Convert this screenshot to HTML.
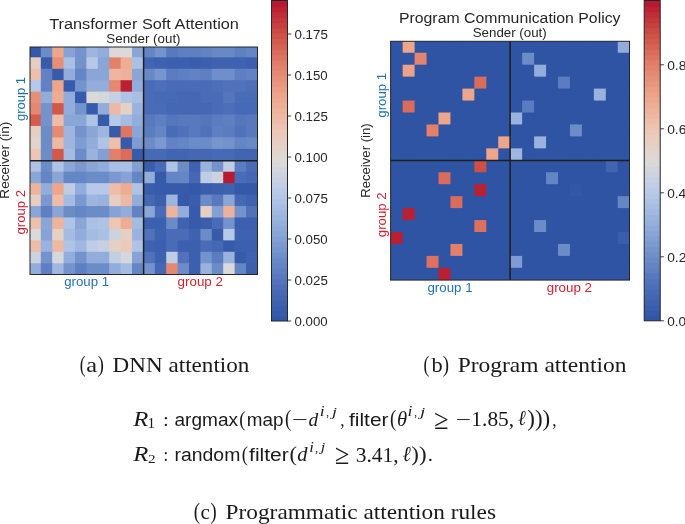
<!DOCTYPE html>
<html><head><meta charset="utf-8"><style>
html,body{margin:0;padding:0;background:#fff;width:685px;height:524px;overflow:hidden}
svg{display:block;will-change:transform}
</style></head><body>
<svg width="685" height="524" viewBox="0 0 685 524">
<clipPath id="clip30"><rect x="30" y="47" width="227.50" height="227.50"/></clipPath><g clip-path="url(#clip30)">
<rect x="29.40" y="45.90" width="12.40" height="12.44" fill="#3459a8"/>
<rect x="40.80" y="45.90" width="12.40" height="12.44" fill="#6c8cc8"/>
<rect x="52.20" y="45.90" width="12.40" height="12.44" fill="#eda68c"/>
<rect x="63.60" y="45.90" width="12.40" height="12.44" fill="#87a3d5"/>
<rect x="75.00" y="45.90" width="12.40" height="12.44" fill="#7493cc"/>
<rect x="86.40" y="45.90" width="12.40" height="12.44" fill="#9db5df"/>
<rect x="97.80" y="45.90" width="12.40" height="12.44" fill="#92addb"/>
<rect x="109.20" y="45.90" width="12.40" height="12.44" fill="#dcdad8"/>
<rect x="120.60" y="45.90" width="12.40" height="12.44" fill="#dcdad8"/>
<rect x="132.00" y="45.90" width="12.40" height="12.44" fill="#8aa6d7"/>
<rect x="143.40" y="45.90" width="12.40" height="12.44" fill="#6586c5"/>
<rect x="154.80" y="45.90" width="12.40" height="12.44" fill="#7493cc"/>
<rect x="166.20" y="45.90" width="12.40" height="12.44" fill="#5879be"/>
<rect x="177.60" y="45.90" width="12.40" height="12.44" fill="#5e7fc2"/>
<rect x="189.00" y="45.90" width="12.40" height="12.44" fill="#5e7fc2"/>
<rect x="200.40" y="45.90" width="12.40" height="12.44" fill="#6282c3"/>
<rect x="211.80" y="45.90" width="12.40" height="12.44" fill="#6989c6"/>
<rect x="223.20" y="45.90" width="12.40" height="12.44" fill="#6989c6"/>
<rect x="234.60" y="45.90" width="12.40" height="12.44" fill="#5e7fc2"/>
<rect x="246.00" y="45.90" width="12.40" height="12.44" fill="#6586c5"/>
<rect x="29.40" y="57.34" width="12.40" height="12.44" fill="#e7cec2"/>
<rect x="40.80" y="57.34" width="12.40" height="12.44" fill="#375baa"/>
<rect x="52.20" y="57.34" width="12.40" height="12.44" fill="#e68f78"/>
<rect x="63.60" y="57.34" width="12.40" height="12.44" fill="#abc1e4"/>
<rect x="75.00" y="57.34" width="12.40" height="12.44" fill="#7493cc"/>
<rect x="86.40" y="57.34" width="12.40" height="12.44" fill="#b6c9e8"/>
<rect x="97.80" y="57.34" width="12.40" height="12.44" fill="#8aa6d7"/>
<rect x="109.20" y="57.34" width="12.40" height="12.44" fill="#e2806a"/>
<rect x="120.60" y="57.34" width="12.40" height="12.44" fill="#edac94"/>
<rect x="132.00" y="57.34" width="12.40" height="12.44" fill="#abc1e4"/>
<rect x="143.40" y="57.34" width="12.40" height="12.44" fill="#4265b2"/>
<rect x="154.80" y="57.34" width="12.40" height="12.44" fill="#3f62b0"/>
<rect x="166.20" y="57.34" width="12.40" height="12.44" fill="#3c60ae"/>
<rect x="177.60" y="57.34" width="12.40" height="12.44" fill="#3c60ae"/>
<rect x="189.00" y="57.34" width="12.40" height="12.44" fill="#3a5eac"/>
<rect x="200.40" y="57.34" width="12.40" height="12.44" fill="#3c60ae"/>
<rect x="211.80" y="57.34" width="12.40" height="12.44" fill="#3f62b0"/>
<rect x="223.20" y="57.34" width="12.40" height="12.44" fill="#3f62b0"/>
<rect x="234.60" y="57.34" width="12.40" height="12.44" fill="#3f62b0"/>
<rect x="246.00" y="57.34" width="12.40" height="12.44" fill="#3c60ae"/>
<rect x="29.40" y="68.78" width="12.40" height="12.44" fill="#eec0ac"/>
<rect x="40.80" y="68.78" width="12.40" height="12.44" fill="#6282c3"/>
<rect x="52.20" y="68.78" width="12.40" height="12.44" fill="#375baa"/>
<rect x="63.60" y="68.78" width="12.40" height="12.44" fill="#92addb"/>
<rect x="75.00" y="68.78" width="12.40" height="12.44" fill="#6586c5"/>
<rect x="86.40" y="68.78" width="12.40" height="12.44" fill="#8aa6d7"/>
<rect x="97.80" y="68.78" width="12.40" height="12.44" fill="#8aa6d7"/>
<rect x="109.20" y="68.78" width="12.40" height="12.44" fill="#eeb6a0"/>
<rect x="120.60" y="68.78" width="12.40" height="12.44" fill="#edb098"/>
<rect x="132.00" y="68.78" width="12.40" height="12.44" fill="#8aa6d7"/>
<rect x="143.40" y="68.78" width="12.40" height="12.44" fill="#6989c6"/>
<rect x="154.80" y="68.78" width="12.40" height="12.44" fill="#7796ce"/>
<rect x="166.20" y="68.78" width="12.40" height="12.44" fill="#5b7cc0"/>
<rect x="177.60" y="68.78" width="12.40" height="12.44" fill="#5e7fc2"/>
<rect x="189.00" y="68.78" width="12.40" height="12.44" fill="#6282c3"/>
<rect x="200.40" y="68.78" width="12.40" height="12.44" fill="#5e7fc2"/>
<rect x="211.80" y="68.78" width="12.40" height="12.44" fill="#708fca"/>
<rect x="223.20" y="68.78" width="12.40" height="12.44" fill="#708fca"/>
<rect x="234.60" y="68.78" width="12.40" height="12.44" fill="#5e7fc2"/>
<rect x="246.00" y="68.78" width="12.40" height="12.44" fill="#6282c3"/>
<rect x="29.40" y="80.22" width="12.40" height="12.44" fill="#b6c9e8"/>
<rect x="40.80" y="80.22" width="12.40" height="12.44" fill="#6282c3"/>
<rect x="52.20" y="80.22" width="12.40" height="12.44" fill="#eda68c"/>
<rect x="63.60" y="80.22" width="12.40" height="12.44" fill="#375baa"/>
<rect x="75.00" y="80.22" width="12.40" height="12.44" fill="#7493cc"/>
<rect x="86.40" y="80.22" width="12.40" height="12.44" fill="#92addb"/>
<rect x="97.80" y="80.22" width="12.40" height="12.44" fill="#92addb"/>
<rect x="109.20" y="80.22" width="12.40" height="12.44" fill="#e48871"/>
<rect x="120.60" y="80.22" width="12.40" height="12.44" fill="#ba2033"/>
<rect x="132.00" y="80.22" width="12.40" height="12.44" fill="#92addb"/>
<rect x="143.40" y="80.22" width="12.40" height="12.44" fill="#4a6cb8"/>
<rect x="154.80" y="80.22" width="12.40" height="12.44" fill="#4d6fba"/>
<rect x="166.20" y="80.22" width="12.40" height="12.44" fill="#4a6cb8"/>
<rect x="177.60" y="80.22" width="12.40" height="12.44" fill="#4a6cb8"/>
<rect x="189.00" y="80.22" width="12.40" height="12.44" fill="#4a6cb8"/>
<rect x="200.40" y="80.22" width="12.40" height="12.44" fill="#4a6cb8"/>
<rect x="211.80" y="80.22" width="12.40" height="12.44" fill="#4d6fba"/>
<rect x="223.20" y="80.22" width="12.40" height="12.44" fill="#5172bb"/>
<rect x="234.60" y="80.22" width="12.40" height="12.44" fill="#5172bb"/>
<rect x="246.00" y="80.22" width="12.40" height="12.44" fill="#4d6fba"/>
<rect x="29.40" y="91.66" width="12.40" height="12.44" fill="#e68f78"/>
<rect x="40.80" y="91.66" width="12.40" height="12.44" fill="#92addb"/>
<rect x="52.20" y="91.66" width="12.40" height="12.44" fill="#edac94"/>
<rect x="63.60" y="91.66" width="12.40" height="12.44" fill="#92addb"/>
<rect x="75.00" y="91.66" width="12.40" height="12.44" fill="#375baa"/>
<rect x="86.40" y="91.66" width="12.40" height="12.44" fill="#dcdad8"/>
<rect x="97.80" y="91.66" width="12.40" height="12.44" fill="#d4d7db"/>
<rect x="109.20" y="91.66" width="12.40" height="12.44" fill="#c5d0e2"/>
<rect x="120.60" y="91.66" width="12.40" height="12.44" fill="#afc3e5"/>
<rect x="132.00" y="91.66" width="12.40" height="12.44" fill="#a8bee3"/>
<rect x="143.40" y="91.66" width="12.40" height="12.44" fill="#4a6cb8"/>
<rect x="154.80" y="91.66" width="12.40" height="12.44" fill="#476ab6"/>
<rect x="166.20" y="91.66" width="12.40" height="12.44" fill="#476ab6"/>
<rect x="177.60" y="91.66" width="12.40" height="12.44" fill="#4567b4"/>
<rect x="189.00" y="91.66" width="12.40" height="12.44" fill="#4567b4"/>
<rect x="200.40" y="91.66" width="12.40" height="12.44" fill="#4a6cb8"/>
<rect x="211.80" y="91.66" width="12.40" height="12.44" fill="#4a6cb8"/>
<rect x="223.20" y="91.66" width="12.40" height="12.44" fill="#5476bd"/>
<rect x="234.60" y="91.66" width="12.40" height="12.44" fill="#4a6cb8"/>
<rect x="246.00" y="91.66" width="12.40" height="12.44" fill="#4a6cb8"/>
<rect x="29.40" y="103.10" width="12.40" height="12.44" fill="#e48871"/>
<rect x="40.80" y="103.10" width="12.40" height="12.44" fill="#7493cc"/>
<rect x="52.20" y="103.10" width="12.40" height="12.44" fill="#d1594c"/>
<rect x="63.60" y="103.10" width="12.40" height="12.44" fill="#92addb"/>
<rect x="75.00" y="103.10" width="12.40" height="12.44" fill="#7493cc"/>
<rect x="86.40" y="103.10" width="12.40" height="12.44" fill="#375baa"/>
<rect x="97.80" y="103.10" width="12.40" height="12.44" fill="#92addb"/>
<rect x="109.20" y="103.10" width="12.40" height="12.44" fill="#eeb9a4"/>
<rect x="120.60" y="103.10" width="12.40" height="12.44" fill="#e5d0c6"/>
<rect x="132.00" y="103.10" width="12.40" height="12.44" fill="#99b3de"/>
<rect x="143.40" y="103.10" width="12.40" height="12.44" fill="#4a6cb8"/>
<rect x="154.80" y="103.10" width="12.40" height="12.44" fill="#4a6cb8"/>
<rect x="166.20" y="103.10" width="12.40" height="12.44" fill="#4567b4"/>
<rect x="177.60" y="103.10" width="12.40" height="12.44" fill="#4567b4"/>
<rect x="189.00" y="103.10" width="12.40" height="12.44" fill="#4567b4"/>
<rect x="200.40" y="103.10" width="12.40" height="12.44" fill="#4567b4"/>
<rect x="211.80" y="103.10" width="12.40" height="12.44" fill="#4a6cb8"/>
<rect x="223.20" y="103.10" width="12.40" height="12.44" fill="#4d6fba"/>
<rect x="234.60" y="103.10" width="12.40" height="12.44" fill="#476ab6"/>
<rect x="246.00" y="103.10" width="12.40" height="12.44" fill="#476ab6"/>
<rect x="29.40" y="114.54" width="12.40" height="12.44" fill="#d35e50"/>
<rect x="40.80" y="114.54" width="12.40" height="12.44" fill="#7493cc"/>
<rect x="52.20" y="114.54" width="12.40" height="12.44" fill="#eebca8"/>
<rect x="63.60" y="114.54" width="12.40" height="12.44" fill="#8aa6d7"/>
<rect x="75.00" y="114.54" width="12.40" height="12.44" fill="#8aa6d7"/>
<rect x="86.40" y="114.54" width="12.40" height="12.44" fill="#afc3e5"/>
<rect x="97.80" y="114.54" width="12.40" height="12.44" fill="#375baa"/>
<rect x="109.20" y="114.54" width="12.40" height="12.44" fill="#b6c9e8"/>
<rect x="120.60" y="114.54" width="12.40" height="12.44" fill="#a4bbe2"/>
<rect x="132.00" y="114.54" width="12.40" height="12.44" fill="#92addb"/>
<rect x="143.40" y="114.54" width="12.40" height="12.44" fill="#5879be"/>
<rect x="154.80" y="114.54" width="12.40" height="12.44" fill="#5e7fc2"/>
<rect x="166.20" y="114.54" width="12.40" height="12.44" fill="#5476bd"/>
<rect x="177.60" y="114.54" width="12.40" height="12.44" fill="#5879be"/>
<rect x="189.00" y="114.54" width="12.40" height="12.44" fill="#5879be"/>
<rect x="200.40" y="114.54" width="12.40" height="12.44" fill="#5476bd"/>
<rect x="211.80" y="114.54" width="12.40" height="12.44" fill="#5b7cc0"/>
<rect x="223.20" y="114.54" width="12.40" height="12.44" fill="#5e7fc2"/>
<rect x="234.60" y="114.54" width="12.40" height="12.44" fill="#5476bd"/>
<rect x="246.00" y="114.54" width="12.40" height="12.44" fill="#5879be"/>
<rect x="29.40" y="125.98" width="12.40" height="12.44" fill="#e7cec2"/>
<rect x="40.80" y="125.98" width="12.40" height="12.44" fill="#6c8cc8"/>
<rect x="52.20" y="125.98" width="12.40" height="12.44" fill="#e58b74"/>
<rect x="63.60" y="125.98" width="12.40" height="12.44" fill="#9db5df"/>
<rect x="75.00" y="125.98" width="12.40" height="12.44" fill="#7493cc"/>
<rect x="86.40" y="125.98" width="12.40" height="12.44" fill="#8aa6d7"/>
<rect x="97.80" y="125.98" width="12.40" height="12.44" fill="#9db5df"/>
<rect x="109.20" y="125.98" width="12.40" height="12.44" fill="#375baa"/>
<rect x="120.60" y="125.98" width="12.40" height="12.44" fill="#de7663"/>
<rect x="132.00" y="125.98" width="12.40" height="12.44" fill="#8aa6d7"/>
<rect x="143.40" y="125.98" width="12.40" height="12.44" fill="#5b7cc0"/>
<rect x="154.80" y="125.98" width="12.40" height="12.44" fill="#6586c5"/>
<rect x="166.20" y="125.98" width="12.40" height="12.44" fill="#4a6cb8"/>
<rect x="177.60" y="125.98" width="12.40" height="12.44" fill="#5172bb"/>
<rect x="189.00" y="125.98" width="12.40" height="12.44" fill="#5879be"/>
<rect x="200.40" y="125.98" width="12.40" height="12.44" fill="#5172bb"/>
<rect x="211.80" y="125.98" width="12.40" height="12.44" fill="#5e7fc2"/>
<rect x="223.20" y="125.98" width="12.40" height="12.44" fill="#5b7cc0"/>
<rect x="234.60" y="125.98" width="12.40" height="12.44" fill="#5172bb"/>
<rect x="246.00" y="125.98" width="12.40" height="12.44" fill="#5879be"/>
<rect x="29.40" y="137.42" width="12.40" height="12.44" fill="#e1d4cd"/>
<rect x="40.80" y="137.42" width="12.40" height="12.44" fill="#6c8cc8"/>
<rect x="52.20" y="137.42" width="12.40" height="12.44" fill="#eeb9a4"/>
<rect x="63.60" y="137.42" width="12.40" height="12.44" fill="#9db5df"/>
<rect x="75.00" y="137.42" width="12.40" height="12.44" fill="#7f9cd2"/>
<rect x="86.40" y="137.42" width="12.40" height="12.44" fill="#92addb"/>
<rect x="97.80" y="137.42" width="12.40" height="12.44" fill="#afc3e5"/>
<rect x="109.20" y="137.42" width="12.40" height="12.44" fill="#eec0ac"/>
<rect x="120.60" y="137.42" width="12.40" height="12.44" fill="#375baa"/>
<rect x="132.00" y="137.42" width="12.40" height="12.44" fill="#7f9cd2"/>
<rect x="143.40" y="137.42" width="12.40" height="12.44" fill="#6c8cc8"/>
<rect x="154.80" y="137.42" width="12.40" height="12.44" fill="#7b99d0"/>
<rect x="166.20" y="137.42" width="12.40" height="12.44" fill="#6282c3"/>
<rect x="177.60" y="137.42" width="12.40" height="12.44" fill="#6586c5"/>
<rect x="189.00" y="137.42" width="12.40" height="12.44" fill="#6c8cc8"/>
<rect x="200.40" y="137.42" width="12.40" height="12.44" fill="#6c8cc8"/>
<rect x="211.80" y="137.42" width="12.40" height="12.44" fill="#7796ce"/>
<rect x="223.20" y="137.42" width="12.40" height="12.44" fill="#7493cc"/>
<rect x="234.60" y="137.42" width="12.40" height="12.44" fill="#6586c5"/>
<rect x="246.00" y="137.42" width="12.40" height="12.44" fill="#6989c6"/>
<rect x="29.40" y="148.86" width="12.40" height="12.44" fill="#eec6b4"/>
<rect x="40.80" y="148.86" width="12.40" height="12.44" fill="#6c8cc8"/>
<rect x="52.20" y="148.86" width="12.40" height="12.44" fill="#d1594c"/>
<rect x="63.60" y="148.86" width="12.40" height="12.44" fill="#a4bbe2"/>
<rect x="75.00" y="148.86" width="12.40" height="12.44" fill="#6c8cc8"/>
<rect x="86.40" y="148.86" width="12.40" height="12.44" fill="#99b3de"/>
<rect x="97.80" y="148.86" width="12.40" height="12.44" fill="#83a0d3"/>
<rect x="109.20" y="148.86" width="12.40" height="12.44" fill="#e2806a"/>
<rect x="120.60" y="148.86" width="12.40" height="12.44" fill="#da6c5b"/>
<rect x="132.00" y="148.86" width="12.40" height="12.44" fill="#375baa"/>
<rect x="143.40" y="148.86" width="12.40" height="12.44" fill="#476ab6"/>
<rect x="154.80" y="148.86" width="12.40" height="12.44" fill="#476ab6"/>
<rect x="166.20" y="148.86" width="12.40" height="12.44" fill="#4265b2"/>
<rect x="177.60" y="148.86" width="12.40" height="12.44" fill="#4265b2"/>
<rect x="189.00" y="148.86" width="12.40" height="12.44" fill="#4567b4"/>
<rect x="200.40" y="148.86" width="12.40" height="12.44" fill="#4567b4"/>
<rect x="211.80" y="148.86" width="12.40" height="12.44" fill="#476ab6"/>
<rect x="223.20" y="148.86" width="12.40" height="12.44" fill="#476ab6"/>
<rect x="234.60" y="148.86" width="12.40" height="12.44" fill="#4265b2"/>
<rect x="246.00" y="148.86" width="12.40" height="12.44" fill="#4265b2"/>
<rect x="29.40" y="160.30" width="12.40" height="12.44" fill="#afc3e5"/>
<rect x="40.80" y="160.30" width="12.40" height="12.44" fill="#6c8cc8"/>
<rect x="52.20" y="160.30" width="12.40" height="12.44" fill="#afc3e5"/>
<rect x="63.60" y="160.30" width="12.40" height="12.44" fill="#8aa6d7"/>
<rect x="75.00" y="160.30" width="12.40" height="12.44" fill="#7b99d0"/>
<rect x="86.40" y="160.30" width="12.40" height="12.44" fill="#8aa6d7"/>
<rect x="97.80" y="160.30" width="12.40" height="12.44" fill="#92addb"/>
<rect x="109.20" y="160.30" width="12.40" height="12.44" fill="#a8bee3"/>
<rect x="120.60" y="160.30" width="12.40" height="12.44" fill="#abc1e4"/>
<rect x="132.00" y="160.30" width="12.40" height="12.44" fill="#83a0d3"/>
<rect x="143.40" y="160.30" width="12.40" height="12.44" fill="#3a5eac"/>
<rect x="154.80" y="160.30" width="12.40" height="12.44" fill="#4a6cb8"/>
<rect x="166.20" y="160.30" width="12.40" height="12.44" fill="#afc3e5"/>
<rect x="177.60" y="160.30" width="12.40" height="12.44" fill="#6c8cc8"/>
<rect x="189.00" y="160.30" width="12.40" height="12.44" fill="#3f62b0"/>
<rect x="200.40" y="160.30" width="12.40" height="12.44" fill="#99b3de"/>
<rect x="211.80" y="160.30" width="12.40" height="12.44" fill="#7493cc"/>
<rect x="223.20" y="160.30" width="12.40" height="12.44" fill="#becce5"/>
<rect x="234.60" y="160.30" width="12.40" height="12.44" fill="#5b7cc0"/>
<rect x="246.00" y="160.30" width="12.40" height="12.44" fill="#4a6cb8"/>
<rect x="29.40" y="171.74" width="12.40" height="12.44" fill="#8aa6d7"/>
<rect x="40.80" y="171.74" width="12.40" height="12.44" fill="#6586c5"/>
<rect x="52.20" y="171.74" width="12.40" height="12.44" fill="#8aa6d7"/>
<rect x="63.60" y="171.74" width="12.40" height="12.44" fill="#6586c5"/>
<rect x="75.00" y="171.74" width="12.40" height="12.44" fill="#6586c5"/>
<rect x="86.40" y="171.74" width="12.40" height="12.44" fill="#6c8cc8"/>
<rect x="97.80" y="171.74" width="12.40" height="12.44" fill="#6c8cc8"/>
<rect x="109.20" y="171.74" width="12.40" height="12.44" fill="#7b99d0"/>
<rect x="120.60" y="171.74" width="12.40" height="12.44" fill="#87a3d5"/>
<rect x="132.00" y="171.74" width="12.40" height="12.44" fill="#6586c5"/>
<rect x="143.40" y="171.74" width="12.40" height="12.44" fill="#92addb"/>
<rect x="154.80" y="171.74" width="12.40" height="12.44" fill="#375baa"/>
<rect x="166.20" y="171.74" width="12.40" height="12.44" fill="#6586c5"/>
<rect x="177.60" y="171.74" width="12.40" height="12.44" fill="#6586c5"/>
<rect x="189.00" y="171.74" width="12.40" height="12.44" fill="#4567b4"/>
<rect x="200.40" y="171.74" width="12.40" height="12.44" fill="#becce5"/>
<rect x="211.80" y="171.74" width="12.40" height="12.44" fill="#cdd3de"/>
<rect x="223.20" y="171.74" width="12.40" height="12.44" fill="#b71a31"/>
<rect x="234.60" y="171.74" width="12.40" height="12.44" fill="#4a6cb8"/>
<rect x="246.00" y="171.74" width="12.40" height="12.44" fill="#4567b4"/>
<rect x="29.40" y="183.18" width="12.40" height="12.44" fill="#edb39c"/>
<rect x="40.80" y="183.18" width="12.40" height="12.44" fill="#92addb"/>
<rect x="52.20" y="183.18" width="12.40" height="12.44" fill="#eda68c"/>
<rect x="63.60" y="183.18" width="12.40" height="12.44" fill="#becce5"/>
<rect x="75.00" y="183.18" width="12.40" height="12.44" fill="#92addb"/>
<rect x="86.40" y="183.18" width="12.40" height="12.44" fill="#b6c9e8"/>
<rect x="97.80" y="183.18" width="12.40" height="12.44" fill="#b6c9e8"/>
<rect x="109.20" y="183.18" width="12.40" height="12.44" fill="#eebca8"/>
<rect x="120.60" y="183.18" width="12.40" height="12.44" fill="#edac94"/>
<rect x="132.00" y="183.18" width="12.40" height="12.44" fill="#afc3e5"/>
<rect x="143.40" y="183.18" width="12.40" height="12.44" fill="#3a5eac"/>
<rect x="154.80" y="183.18" width="12.40" height="12.44" fill="#375baa"/>
<rect x="166.20" y="183.18" width="12.40" height="12.44" fill="#375baa"/>
<rect x="177.60" y="183.18" width="12.40" height="12.44" fill="#375baa"/>
<rect x="189.00" y="183.18" width="12.40" height="12.44" fill="#3459a8"/>
<rect x="200.40" y="183.18" width="12.40" height="12.44" fill="#3a5eac"/>
<rect x="211.80" y="183.18" width="12.40" height="12.44" fill="#3c60ae"/>
<rect x="223.20" y="183.18" width="12.40" height="12.44" fill="#3f62b0"/>
<rect x="234.60" y="183.18" width="12.40" height="12.44" fill="#3459a8"/>
<rect x="246.00" y="183.18" width="12.40" height="12.44" fill="#3459a8"/>
<rect x="29.40" y="194.62" width="12.40" height="12.44" fill="#e7cec2"/>
<rect x="40.80" y="194.62" width="12.40" height="12.44" fill="#7b99d0"/>
<rect x="52.20" y="194.62" width="12.40" height="12.44" fill="#eebca8"/>
<rect x="63.60" y="194.62" width="12.40" height="12.44" fill="#a4bbe2"/>
<rect x="75.00" y="194.62" width="12.40" height="12.44" fill="#7b99d0"/>
<rect x="86.40" y="194.62" width="12.40" height="12.44" fill="#9db5df"/>
<rect x="97.80" y="194.62" width="12.40" height="12.44" fill="#99b3de"/>
<rect x="109.20" y="194.62" width="12.40" height="12.44" fill="#e7cec2"/>
<rect x="120.60" y="194.62" width="12.40" height="12.44" fill="#eeb9a4"/>
<rect x="132.00" y="194.62" width="12.40" height="12.44" fill="#92addb"/>
<rect x="143.40" y="194.62" width="12.40" height="12.44" fill="#4567b4"/>
<rect x="154.80" y="194.62" width="12.40" height="12.44" fill="#3c60ae"/>
<rect x="166.20" y="194.62" width="12.40" height="12.44" fill="#9db5df"/>
<rect x="177.60" y="194.62" width="12.40" height="12.44" fill="#3459a8"/>
<rect x="189.00" y="194.62" width="12.40" height="12.44" fill="#3a5eac"/>
<rect x="200.40" y="194.62" width="12.40" height="12.44" fill="#6c8cc8"/>
<rect x="211.80" y="194.62" width="12.40" height="12.44" fill="#5879be"/>
<rect x="223.20" y="194.62" width="12.40" height="12.44" fill="#8aa6d7"/>
<rect x="234.60" y="194.62" width="12.40" height="12.44" fill="#4567b4"/>
<rect x="246.00" y="194.62" width="12.40" height="12.44" fill="#3f62b0"/>
<rect x="29.40" y="206.06" width="12.40" height="12.44" fill="#8aa6d7"/>
<rect x="40.80" y="206.06" width="12.40" height="12.44" fill="#5e7fc2"/>
<rect x="52.20" y="206.06" width="12.40" height="12.44" fill="#8aa6d7"/>
<rect x="63.60" y="206.06" width="12.40" height="12.44" fill="#6c8cc8"/>
<rect x="75.00" y="206.06" width="12.40" height="12.44" fill="#6586c5"/>
<rect x="86.40" y="206.06" width="12.40" height="12.44" fill="#6c8cc8"/>
<rect x="97.80" y="206.06" width="12.40" height="12.44" fill="#6c8cc8"/>
<rect x="109.20" y="206.06" width="12.40" height="12.44" fill="#87a3d5"/>
<rect x="120.60" y="206.06" width="12.40" height="12.44" fill="#92addb"/>
<rect x="132.00" y="206.06" width="12.40" height="12.44" fill="#6282c3"/>
<rect x="143.40" y="206.06" width="12.40" height="12.44" fill="#8aa6d7"/>
<rect x="154.80" y="206.06" width="12.40" height="12.44" fill="#4a6cb8"/>
<rect x="166.20" y="206.06" width="12.40" height="12.44" fill="#edb39c"/>
<rect x="177.60" y="206.06" width="12.40" height="12.44" fill="#92addb"/>
<rect x="189.00" y="206.06" width="12.40" height="12.44" fill="#375baa"/>
<rect x="200.40" y="206.06" width="12.40" height="12.44" fill="#e7cec2"/>
<rect x="211.80" y="206.06" width="12.40" height="12.44" fill="#83a0d3"/>
<rect x="223.20" y="206.06" width="12.40" height="12.44" fill="#edb098"/>
<rect x="234.60" y="206.06" width="12.40" height="12.44" fill="#7493cc"/>
<rect x="246.00" y="206.06" width="12.40" height="12.44" fill="#5172bb"/>
<rect x="29.40" y="217.50" width="12.40" height="12.44" fill="#eec0ac"/>
<rect x="40.80" y="217.50" width="12.40" height="12.44" fill="#8aa6d7"/>
<rect x="52.20" y="217.50" width="12.40" height="12.44" fill="#edb39c"/>
<rect x="63.60" y="217.50" width="12.40" height="12.44" fill="#afc3e5"/>
<rect x="75.00" y="217.50" width="12.40" height="12.44" fill="#8aa6d7"/>
<rect x="86.40" y="217.50" width="12.40" height="12.44" fill="#abc1e4"/>
<rect x="97.80" y="217.50" width="12.40" height="12.44" fill="#afc3e5"/>
<rect x="109.20" y="217.50" width="12.40" height="12.44" fill="#eec6b4"/>
<rect x="120.60" y="217.50" width="12.40" height="12.44" fill="#edac94"/>
<rect x="132.00" y="217.50" width="12.40" height="12.44" fill="#a4bbe2"/>
<rect x="143.40" y="217.50" width="12.40" height="12.44" fill="#3c60ae"/>
<rect x="154.80" y="217.50" width="12.40" height="12.44" fill="#3c60ae"/>
<rect x="166.20" y="217.50" width="12.40" height="12.44" fill="#6c8cc8"/>
<rect x="177.60" y="217.50" width="12.40" height="12.44" fill="#3f62b0"/>
<rect x="189.00" y="217.50" width="12.40" height="12.44" fill="#375baa"/>
<rect x="200.40" y="217.50" width="12.40" height="12.44" fill="#3a5eac"/>
<rect x="211.80" y="217.50" width="12.40" height="12.44" fill="#4a6cb8"/>
<rect x="223.20" y="217.50" width="12.40" height="12.44" fill="#7493cc"/>
<rect x="234.60" y="217.50" width="12.40" height="12.44" fill="#3c60ae"/>
<rect x="246.00" y="217.50" width="12.40" height="12.44" fill="#3c60ae"/>
<rect x="29.40" y="228.94" width="12.40" height="12.44" fill="#dcdad8"/>
<rect x="40.80" y="228.94" width="12.40" height="12.44" fill="#87a3d5"/>
<rect x="52.20" y="228.94" width="12.40" height="12.44" fill="#e5d0c6"/>
<rect x="63.60" y="228.94" width="12.40" height="12.44" fill="#a4bbe2"/>
<rect x="75.00" y="228.94" width="12.40" height="12.44" fill="#92addb"/>
<rect x="86.40" y="228.94" width="12.40" height="12.44" fill="#a4bbe2"/>
<rect x="97.80" y="228.94" width="12.40" height="12.44" fill="#abc1e4"/>
<rect x="109.20" y="228.94" width="12.40" height="12.44" fill="#cdd3de"/>
<rect x="120.60" y="228.94" width="12.40" height="12.44" fill="#e7cec2"/>
<rect x="132.00" y="228.94" width="12.40" height="12.44" fill="#99b3de"/>
<rect x="143.40" y="228.94" width="12.40" height="12.44" fill="#5172bb"/>
<rect x="154.80" y="228.94" width="12.40" height="12.44" fill="#3f62b0"/>
<rect x="166.20" y="228.94" width="12.40" height="12.44" fill="#4a6cb8"/>
<rect x="177.60" y="228.94" width="12.40" height="12.44" fill="#4a6cb8"/>
<rect x="189.00" y="228.94" width="12.40" height="12.44" fill="#3f62b0"/>
<rect x="200.40" y="228.94" width="12.40" height="12.44" fill="#6c8cc8"/>
<rect x="211.80" y="228.94" width="12.40" height="12.44" fill="#375baa"/>
<rect x="223.20" y="228.94" width="12.40" height="12.44" fill="#b6c9e8"/>
<rect x="234.60" y="228.94" width="12.40" height="12.44" fill="#3f62b0"/>
<rect x="246.00" y="228.94" width="12.40" height="12.44" fill="#3f62b0"/>
<rect x="29.40" y="240.38" width="12.40" height="12.44" fill="#eebca8"/>
<rect x="40.80" y="240.38" width="12.40" height="12.44" fill="#99b3de"/>
<rect x="52.20" y="240.38" width="12.40" height="12.44" fill="#eeb9a4"/>
<rect x="63.60" y="240.38" width="12.40" height="12.44" fill="#afc3e5"/>
<rect x="75.00" y="240.38" width="12.40" height="12.44" fill="#a0b8e0"/>
<rect x="86.40" y="240.38" width="12.40" height="12.44" fill="#becce5"/>
<rect x="97.80" y="240.38" width="12.40" height="12.44" fill="#c5d0e2"/>
<rect x="109.20" y="240.38" width="12.40" height="12.44" fill="#e5d0c6"/>
<rect x="120.60" y="240.38" width="12.40" height="12.44" fill="#eacabb"/>
<rect x="132.00" y="240.38" width="12.40" height="12.44" fill="#afc3e5"/>
<rect x="143.40" y="240.38" width="12.40" height="12.44" fill="#3f62b0"/>
<rect x="154.80" y="240.38" width="12.40" height="12.44" fill="#3c60ae"/>
<rect x="166.20" y="240.38" width="12.40" height="12.44" fill="#4a6cb8"/>
<rect x="177.60" y="240.38" width="12.40" height="12.44" fill="#3c60ae"/>
<rect x="189.00" y="240.38" width="12.40" height="12.44" fill="#3c60ae"/>
<rect x="200.40" y="240.38" width="12.40" height="12.44" fill="#4a6cb8"/>
<rect x="211.80" y="240.38" width="12.40" height="12.44" fill="#4567b4"/>
<rect x="223.20" y="240.38" width="12.40" height="12.44" fill="#375baa"/>
<rect x="234.60" y="240.38" width="12.40" height="12.44" fill="#3c60ae"/>
<rect x="246.00" y="240.38" width="12.40" height="12.44" fill="#3c60ae"/>
<rect x="29.40" y="251.82" width="12.40" height="12.44" fill="#cdd3de"/>
<rect x="40.80" y="251.82" width="12.40" height="12.44" fill="#7493cc"/>
<rect x="52.20" y="251.82" width="12.40" height="12.44" fill="#d4d7db"/>
<rect x="63.60" y="251.82" width="12.40" height="12.44" fill="#92addb"/>
<rect x="75.00" y="251.82" width="12.40" height="12.44" fill="#7493cc"/>
<rect x="86.40" y="251.82" width="12.40" height="12.44" fill="#92addb"/>
<rect x="97.80" y="251.82" width="12.40" height="12.44" fill="#92addb"/>
<rect x="109.20" y="251.82" width="12.40" height="12.44" fill="#c1cee3"/>
<rect x="120.60" y="251.82" width="12.40" height="12.44" fill="#d4d7db"/>
<rect x="132.00" y="251.82" width="12.40" height="12.44" fill="#87a3d5"/>
<rect x="143.40" y="251.82" width="12.40" height="12.44" fill="#5172bb"/>
<rect x="154.80" y="251.82" width="12.40" height="12.44" fill="#3f62b0"/>
<rect x="166.20" y="251.82" width="12.40" height="12.44" fill="#becce5"/>
<rect x="177.60" y="251.82" width="12.40" height="12.44" fill="#5172bb"/>
<rect x="189.00" y="251.82" width="12.40" height="12.44" fill="#3c60ae"/>
<rect x="200.40" y="251.82" width="12.40" height="12.44" fill="#7493cc"/>
<rect x="211.80" y="251.82" width="12.40" height="12.44" fill="#5b7cc0"/>
<rect x="223.20" y="251.82" width="12.40" height="12.44" fill="#99b3de"/>
<rect x="234.60" y="251.82" width="12.40" height="12.44" fill="#375baa"/>
<rect x="246.00" y="251.82" width="12.40" height="12.44" fill="#3f62b0"/>
<rect x="29.40" y="263.26" width="12.40" height="12.44" fill="#92addb"/>
<rect x="40.80" y="263.26" width="12.40" height="12.44" fill="#5e7fc2"/>
<rect x="52.20" y="263.26" width="12.40" height="12.44" fill="#a0b8e0"/>
<rect x="63.60" y="263.26" width="12.40" height="12.44" fill="#7493cc"/>
<rect x="75.00" y="263.26" width="12.40" height="12.44" fill="#5e7fc2"/>
<rect x="86.40" y="263.26" width="12.40" height="12.44" fill="#6c8cc8"/>
<rect x="97.80" y="263.26" width="12.40" height="12.44" fill="#6c8cc8"/>
<rect x="109.20" y="263.26" width="12.40" height="12.44" fill="#92addb"/>
<rect x="120.60" y="263.26" width="12.40" height="12.44" fill="#a4bbe2"/>
<rect x="132.00" y="263.26" width="12.40" height="12.44" fill="#6586c5"/>
<rect x="143.40" y="263.26" width="12.40" height="12.44" fill="#7493cc"/>
<rect x="154.80" y="263.26" width="12.40" height="12.44" fill="#4567b4"/>
<rect x="166.20" y="263.26" width="12.40" height="12.44" fill="#e48871"/>
<rect x="177.60" y="263.26" width="12.40" height="12.44" fill="#6c8cc8"/>
<rect x="189.00" y="263.26" width="12.40" height="12.44" fill="#3c60ae"/>
<rect x="200.40" y="263.26" width="12.40" height="12.44" fill="#99b3de"/>
<rect x="211.80" y="263.26" width="12.40" height="12.44" fill="#6c8cc8"/>
<rect x="223.20" y="263.26" width="12.40" height="12.44" fill="#dcdad8"/>
<rect x="234.60" y="263.26" width="12.40" height="12.44" fill="#6586c5"/>
<rect x="246.00" y="263.26" width="12.40" height="12.44" fill="#3c60ae"/>
</g>
<line x1="143.6" y1="47" x2="143.6" y2="274.5" stroke="#1e1e1e" stroke-width="1.5"/>
<line x1="30" y1="160.7" x2="257.5" y2="160.7" stroke="#1e1e1e" stroke-width="1.5"/>
<rect x="30" y="47" width="227.50" height="227.50" fill="none" stroke="#262626" stroke-width="1"/>
<clipPath id="clip390"><rect x="390.6" y="41.3" width="238.90" height="238.80"/></clipPath><g clip-path="url(#clip390)">
<rect x="390.70" y="40.80" width="12.95" height="12.95" fill="#2f54a4"/>
<rect x="402.65" y="40.80" width="12.95" height="12.95" fill="#eda68c"/>
<rect x="414.60" y="40.80" width="12.95" height="12.95" fill="#2f54a4"/>
<rect x="426.55" y="40.80" width="12.95" height="12.95" fill="#2f54a4"/>
<rect x="438.50" y="40.80" width="12.95" height="12.95" fill="#2f54a4"/>
<rect x="450.45" y="40.80" width="12.95" height="12.95" fill="#2f54a4"/>
<rect x="462.40" y="40.80" width="12.95" height="12.95" fill="#2f54a4"/>
<rect x="474.35" y="40.80" width="12.95" height="12.95" fill="#2f54a4"/>
<rect x="486.30" y="40.80" width="12.95" height="12.95" fill="#2f54a4"/>
<rect x="498.25" y="40.80" width="12.95" height="12.95" fill="#2f54a4"/>
<rect x="510.20" y="40.80" width="12.95" height="12.95" fill="#2f54a4"/>
<rect x="522.15" y="40.80" width="12.95" height="12.95" fill="#2f54a4"/>
<rect x="534.10" y="40.80" width="12.95" height="12.95" fill="#2f54a4"/>
<rect x="546.05" y="40.80" width="12.95" height="12.95" fill="#2f54a4"/>
<rect x="558.00" y="40.80" width="12.95" height="12.95" fill="#2f54a4"/>
<rect x="569.95" y="40.80" width="12.95" height="12.95" fill="#2f54a4"/>
<rect x="581.90" y="40.80" width="12.95" height="12.95" fill="#2f54a4"/>
<rect x="593.85" y="40.80" width="12.95" height="12.95" fill="#2f54a4"/>
<rect x="605.80" y="40.80" width="12.95" height="12.95" fill="#2f54a4"/>
<rect x="617.75" y="40.80" width="12.95" height="12.95" fill="#92addb"/>
<rect x="390.70" y="52.75" width="12.95" height="12.95" fill="#2f54a4"/>
<rect x="402.65" y="52.75" width="12.95" height="12.95" fill="#2f54a4"/>
<rect x="414.60" y="52.75" width="12.95" height="12.95" fill="#e3846d"/>
<rect x="426.55" y="52.75" width="12.95" height="12.95" fill="#2f54a4"/>
<rect x="438.50" y="52.75" width="12.95" height="12.95" fill="#2f54a4"/>
<rect x="450.45" y="52.75" width="12.95" height="12.95" fill="#2f54a4"/>
<rect x="462.40" y="52.75" width="12.95" height="12.95" fill="#2f54a4"/>
<rect x="474.35" y="52.75" width="12.95" height="12.95" fill="#2f54a4"/>
<rect x="486.30" y="52.75" width="12.95" height="12.95" fill="#2f54a4"/>
<rect x="498.25" y="52.75" width="12.95" height="12.95" fill="#2f54a4"/>
<rect x="510.20" y="52.75" width="12.95" height="12.95" fill="#2f54a4"/>
<rect x="522.15" y="52.75" width="12.95" height="12.95" fill="#6c8cc8"/>
<rect x="534.10" y="52.75" width="12.95" height="12.95" fill="#2f54a4"/>
<rect x="546.05" y="52.75" width="12.95" height="12.95" fill="#2f54a4"/>
<rect x="558.00" y="52.75" width="12.95" height="12.95" fill="#2f54a4"/>
<rect x="569.95" y="52.75" width="12.95" height="12.95" fill="#2f54a4"/>
<rect x="581.90" y="52.75" width="12.95" height="12.95" fill="#2f54a4"/>
<rect x="593.85" y="52.75" width="12.95" height="12.95" fill="#2f54a4"/>
<rect x="605.80" y="52.75" width="12.95" height="12.95" fill="#2f54a4"/>
<rect x="617.75" y="52.75" width="12.95" height="12.95" fill="#2f54a4"/>
<rect x="390.70" y="64.70" width="12.95" height="12.95" fill="#2f54a4"/>
<rect x="402.65" y="64.70" width="12.95" height="12.95" fill="#eca289"/>
<rect x="414.60" y="64.70" width="12.95" height="12.95" fill="#2f54a4"/>
<rect x="426.55" y="64.70" width="12.95" height="12.95" fill="#2f54a4"/>
<rect x="438.50" y="64.70" width="12.95" height="12.95" fill="#2f54a4"/>
<rect x="450.45" y="64.70" width="12.95" height="12.95" fill="#2f54a4"/>
<rect x="462.40" y="64.70" width="12.95" height="12.95" fill="#2f54a4"/>
<rect x="474.35" y="64.70" width="12.95" height="12.95" fill="#2f54a4"/>
<rect x="486.30" y="64.70" width="12.95" height="12.95" fill="#2f54a4"/>
<rect x="498.25" y="64.70" width="12.95" height="12.95" fill="#2f54a4"/>
<rect x="510.20" y="64.70" width="12.95" height="12.95" fill="#2f54a4"/>
<rect x="522.15" y="64.70" width="12.95" height="12.95" fill="#2f54a4"/>
<rect x="534.10" y="64.70" width="12.95" height="12.95" fill="#92addb"/>
<rect x="546.05" y="64.70" width="12.95" height="12.95" fill="#2f54a4"/>
<rect x="558.00" y="64.70" width="12.95" height="12.95" fill="#2f54a4"/>
<rect x="569.95" y="64.70" width="12.95" height="12.95" fill="#2f54a4"/>
<rect x="581.90" y="64.70" width="12.95" height="12.95" fill="#2f54a4"/>
<rect x="593.85" y="64.70" width="12.95" height="12.95" fill="#2f54a4"/>
<rect x="605.80" y="64.70" width="12.95" height="12.95" fill="#2f54a4"/>
<rect x="617.75" y="64.70" width="12.95" height="12.95" fill="#2f54a4"/>
<rect x="390.70" y="76.65" width="12.95" height="12.95" fill="#2f54a4"/>
<rect x="402.65" y="76.65" width="12.95" height="12.95" fill="#2f54a4"/>
<rect x="414.60" y="76.65" width="12.95" height="12.95" fill="#2f54a4"/>
<rect x="426.55" y="76.65" width="12.95" height="12.95" fill="#2f54a4"/>
<rect x="438.50" y="76.65" width="12.95" height="12.95" fill="#2f54a4"/>
<rect x="450.45" y="76.65" width="12.95" height="12.95" fill="#2f54a4"/>
<rect x="462.40" y="76.65" width="12.95" height="12.95" fill="#2f54a4"/>
<rect x="474.35" y="76.65" width="12.95" height="12.95" fill="#da6c5b"/>
<rect x="486.30" y="76.65" width="12.95" height="12.95" fill="#2f54a4"/>
<rect x="498.25" y="76.65" width="12.95" height="12.95" fill="#2f54a4"/>
<rect x="510.20" y="76.65" width="12.95" height="12.95" fill="#2f54a4"/>
<rect x="522.15" y="76.65" width="12.95" height="12.95" fill="#2f54a4"/>
<rect x="534.10" y="76.65" width="12.95" height="12.95" fill="#2f54a4"/>
<rect x="546.05" y="76.65" width="12.95" height="12.95" fill="#2f54a4"/>
<rect x="558.00" y="76.65" width="12.95" height="12.95" fill="#5b7cc0"/>
<rect x="569.95" y="76.65" width="12.95" height="12.95" fill="#2f54a4"/>
<rect x="581.90" y="76.65" width="12.95" height="12.95" fill="#2f54a4"/>
<rect x="593.85" y="76.65" width="12.95" height="12.95" fill="#2f54a4"/>
<rect x="605.80" y="76.65" width="12.95" height="12.95" fill="#2f54a4"/>
<rect x="617.75" y="76.65" width="12.95" height="12.95" fill="#2f54a4"/>
<rect x="390.70" y="88.60" width="12.95" height="12.95" fill="#2f54a4"/>
<rect x="402.65" y="88.60" width="12.95" height="12.95" fill="#2f54a4"/>
<rect x="414.60" y="88.60" width="12.95" height="12.95" fill="#2f54a4"/>
<rect x="426.55" y="88.60" width="12.95" height="12.95" fill="#2f54a4"/>
<rect x="438.50" y="88.60" width="12.95" height="12.95" fill="#2f54a4"/>
<rect x="450.45" y="88.60" width="12.95" height="12.95" fill="#2f54a4"/>
<rect x="462.40" y="88.60" width="12.95" height="12.95" fill="#eda68c"/>
<rect x="474.35" y="88.60" width="12.95" height="12.95" fill="#2f54a4"/>
<rect x="486.30" y="88.60" width="12.95" height="12.95" fill="#2f54a4"/>
<rect x="498.25" y="88.60" width="12.95" height="12.95" fill="#2f54a4"/>
<rect x="510.20" y="88.60" width="12.95" height="12.95" fill="#2f54a4"/>
<rect x="522.15" y="88.60" width="12.95" height="12.95" fill="#2f54a4"/>
<rect x="534.10" y="88.60" width="12.95" height="12.95" fill="#2f54a4"/>
<rect x="546.05" y="88.60" width="12.95" height="12.95" fill="#2f54a4"/>
<rect x="558.00" y="88.60" width="12.95" height="12.95" fill="#2f54a4"/>
<rect x="569.95" y="88.60" width="12.95" height="12.95" fill="#2f54a4"/>
<rect x="581.90" y="88.60" width="12.95" height="12.95" fill="#2f54a4"/>
<rect x="593.85" y="88.60" width="12.95" height="12.95" fill="#99b3de"/>
<rect x="605.80" y="88.60" width="12.95" height="12.95" fill="#2f54a4"/>
<rect x="617.75" y="88.60" width="12.95" height="12.95" fill="#2f54a4"/>
<rect x="390.70" y="100.55" width="12.95" height="12.95" fill="#2f54a4"/>
<rect x="402.65" y="100.55" width="12.95" height="12.95" fill="#da6c5b"/>
<rect x="414.60" y="100.55" width="12.95" height="12.95" fill="#2f54a4"/>
<rect x="426.55" y="100.55" width="12.95" height="12.95" fill="#2f54a4"/>
<rect x="438.50" y="100.55" width="12.95" height="12.95" fill="#2f54a4"/>
<rect x="450.45" y="100.55" width="12.95" height="12.95" fill="#2f54a4"/>
<rect x="462.40" y="100.55" width="12.95" height="12.95" fill="#2f54a4"/>
<rect x="474.35" y="100.55" width="12.95" height="12.95" fill="#2f54a4"/>
<rect x="486.30" y="100.55" width="12.95" height="12.95" fill="#2f54a4"/>
<rect x="498.25" y="100.55" width="12.95" height="12.95" fill="#2f54a4"/>
<rect x="510.20" y="100.55" width="12.95" height="12.95" fill="#2f54a4"/>
<rect x="522.15" y="100.55" width="12.95" height="12.95" fill="#5b7cc0"/>
<rect x="534.10" y="100.55" width="12.95" height="12.95" fill="#2f54a4"/>
<rect x="546.05" y="100.55" width="12.95" height="12.95" fill="#2f54a4"/>
<rect x="558.00" y="100.55" width="12.95" height="12.95" fill="#2f54a4"/>
<rect x="569.95" y="100.55" width="12.95" height="12.95" fill="#2f54a4"/>
<rect x="581.90" y="100.55" width="12.95" height="12.95" fill="#2f54a4"/>
<rect x="593.85" y="100.55" width="12.95" height="12.95" fill="#2f54a4"/>
<rect x="605.80" y="100.55" width="12.95" height="12.95" fill="#2f54a4"/>
<rect x="617.75" y="100.55" width="12.95" height="12.95" fill="#2f54a4"/>
<rect x="390.70" y="112.50" width="12.95" height="12.95" fill="#2f54a4"/>
<rect x="402.65" y="112.50" width="12.95" height="12.95" fill="#2f54a4"/>
<rect x="414.60" y="112.50" width="12.95" height="12.95" fill="#2f54a4"/>
<rect x="426.55" y="112.50" width="12.95" height="12.95" fill="#2f54a4"/>
<rect x="438.50" y="112.50" width="12.95" height="12.95" fill="#eda68c"/>
<rect x="450.45" y="112.50" width="12.95" height="12.95" fill="#2f54a4"/>
<rect x="462.40" y="112.50" width="12.95" height="12.95" fill="#2f54a4"/>
<rect x="474.35" y="112.50" width="12.95" height="12.95" fill="#2f54a4"/>
<rect x="486.30" y="112.50" width="12.95" height="12.95" fill="#2f54a4"/>
<rect x="498.25" y="112.50" width="12.95" height="12.95" fill="#2f54a4"/>
<rect x="510.20" y="112.50" width="12.95" height="12.95" fill="#99b3de"/>
<rect x="522.15" y="112.50" width="12.95" height="12.95" fill="#2f54a4"/>
<rect x="534.10" y="112.50" width="12.95" height="12.95" fill="#2f54a4"/>
<rect x="546.05" y="112.50" width="12.95" height="12.95" fill="#2f54a4"/>
<rect x="558.00" y="112.50" width="12.95" height="12.95" fill="#2f54a4"/>
<rect x="569.95" y="112.50" width="12.95" height="12.95" fill="#2f54a4"/>
<rect x="581.90" y="112.50" width="12.95" height="12.95" fill="#2f54a4"/>
<rect x="593.85" y="112.50" width="12.95" height="12.95" fill="#2f54a4"/>
<rect x="605.80" y="112.50" width="12.95" height="12.95" fill="#2f54a4"/>
<rect x="617.75" y="112.50" width="12.95" height="12.95" fill="#2f54a4"/>
<rect x="390.70" y="124.45" width="12.95" height="12.95" fill="#2f54a4"/>
<rect x="402.65" y="124.45" width="12.95" height="12.95" fill="#2f54a4"/>
<rect x="414.60" y="124.45" width="12.95" height="12.95" fill="#2f54a4"/>
<rect x="426.55" y="124.45" width="12.95" height="12.95" fill="#e2806a"/>
<rect x="438.50" y="124.45" width="12.95" height="12.95" fill="#2f54a4"/>
<rect x="450.45" y="124.45" width="12.95" height="12.95" fill="#2f54a4"/>
<rect x="462.40" y="124.45" width="12.95" height="12.95" fill="#2f54a4"/>
<rect x="474.35" y="124.45" width="12.95" height="12.95" fill="#2f54a4"/>
<rect x="486.30" y="124.45" width="12.95" height="12.95" fill="#2f54a4"/>
<rect x="498.25" y="124.45" width="12.95" height="12.95" fill="#2f54a4"/>
<rect x="510.20" y="124.45" width="12.95" height="12.95" fill="#2f54a4"/>
<rect x="522.15" y="124.45" width="12.95" height="12.95" fill="#2f54a4"/>
<rect x="534.10" y="124.45" width="12.95" height="12.95" fill="#2f54a4"/>
<rect x="546.05" y="124.45" width="12.95" height="12.95" fill="#2f54a4"/>
<rect x="558.00" y="124.45" width="12.95" height="12.95" fill="#2f54a4"/>
<rect x="569.95" y="124.45" width="12.95" height="12.95" fill="#6c8cc8"/>
<rect x="581.90" y="124.45" width="12.95" height="12.95" fill="#2f54a4"/>
<rect x="593.85" y="124.45" width="12.95" height="12.95" fill="#2f54a4"/>
<rect x="605.80" y="124.45" width="12.95" height="12.95" fill="#2f54a4"/>
<rect x="617.75" y="124.45" width="12.95" height="12.95" fill="#2f54a4"/>
<rect x="390.70" y="136.40" width="12.95" height="12.95" fill="#2f54a4"/>
<rect x="402.65" y="136.40" width="12.95" height="12.95" fill="#2f54a4"/>
<rect x="414.60" y="136.40" width="12.95" height="12.95" fill="#2f54a4"/>
<rect x="426.55" y="136.40" width="12.95" height="12.95" fill="#2f54a4"/>
<rect x="438.50" y="136.40" width="12.95" height="12.95" fill="#2f54a4"/>
<rect x="450.45" y="136.40" width="12.95" height="12.95" fill="#2f54a4"/>
<rect x="462.40" y="136.40" width="12.95" height="12.95" fill="#2f54a4"/>
<rect x="474.35" y="136.40" width="12.95" height="12.95" fill="#2f54a4"/>
<rect x="486.30" y="136.40" width="12.95" height="12.95" fill="#2f54a4"/>
<rect x="498.25" y="136.40" width="12.95" height="12.95" fill="#eda68c"/>
<rect x="510.20" y="136.40" width="12.95" height="12.95" fill="#2f54a4"/>
<rect x="522.15" y="136.40" width="12.95" height="12.95" fill="#2f54a4"/>
<rect x="534.10" y="136.40" width="12.95" height="12.95" fill="#99b3de"/>
<rect x="546.05" y="136.40" width="12.95" height="12.95" fill="#2f54a4"/>
<rect x="558.00" y="136.40" width="12.95" height="12.95" fill="#2f54a4"/>
<rect x="569.95" y="136.40" width="12.95" height="12.95" fill="#2f54a4"/>
<rect x="581.90" y="136.40" width="12.95" height="12.95" fill="#2f54a4"/>
<rect x="593.85" y="136.40" width="12.95" height="12.95" fill="#2f54a4"/>
<rect x="605.80" y="136.40" width="12.95" height="12.95" fill="#2f54a4"/>
<rect x="617.75" y="136.40" width="12.95" height="12.95" fill="#2f54a4"/>
<rect x="390.70" y="148.35" width="12.95" height="12.95" fill="#2f54a4"/>
<rect x="402.65" y="148.35" width="12.95" height="12.95" fill="#2f54a4"/>
<rect x="414.60" y="148.35" width="12.95" height="12.95" fill="#2f54a4"/>
<rect x="426.55" y="148.35" width="12.95" height="12.95" fill="#2f54a4"/>
<rect x="438.50" y="148.35" width="12.95" height="12.95" fill="#2f54a4"/>
<rect x="450.45" y="148.35" width="12.95" height="12.95" fill="#2f54a4"/>
<rect x="462.40" y="148.35" width="12.95" height="12.95" fill="#2f54a4"/>
<rect x="474.35" y="148.35" width="12.95" height="12.95" fill="#2f54a4"/>
<rect x="486.30" y="148.35" width="12.95" height="12.95" fill="#eda68c"/>
<rect x="498.25" y="148.35" width="12.95" height="12.95" fill="#2f54a4"/>
<rect x="510.20" y="148.35" width="12.95" height="12.95" fill="#9db5df"/>
<rect x="522.15" y="148.35" width="12.95" height="12.95" fill="#2f54a4"/>
<rect x="534.10" y="148.35" width="12.95" height="12.95" fill="#2f54a4"/>
<rect x="546.05" y="148.35" width="12.95" height="12.95" fill="#2f54a4"/>
<rect x="558.00" y="148.35" width="12.95" height="12.95" fill="#2f54a4"/>
<rect x="569.95" y="148.35" width="12.95" height="12.95" fill="#2f54a4"/>
<rect x="581.90" y="148.35" width="12.95" height="12.95" fill="#2f54a4"/>
<rect x="593.85" y="148.35" width="12.95" height="12.95" fill="#2f54a4"/>
<rect x="605.80" y="148.35" width="12.95" height="12.95" fill="#2f54a4"/>
<rect x="617.75" y="148.35" width="12.95" height="12.95" fill="#2f54a4"/>
<rect x="390.70" y="160.30" width="12.95" height="12.95" fill="#2f54a4"/>
<rect x="402.65" y="160.30" width="12.95" height="12.95" fill="#2f54a4"/>
<rect x="414.60" y="160.30" width="12.95" height="12.95" fill="#2f54a4"/>
<rect x="426.55" y="160.30" width="12.95" height="12.95" fill="#2f54a4"/>
<rect x="438.50" y="160.30" width="12.95" height="12.95" fill="#2f54a4"/>
<rect x="450.45" y="160.30" width="12.95" height="12.95" fill="#2f54a4"/>
<rect x="462.40" y="160.30" width="12.95" height="12.95" fill="#2f54a4"/>
<rect x="474.35" y="160.30" width="12.95" height="12.95" fill="#cd4f45"/>
<rect x="486.30" y="160.30" width="12.95" height="12.95" fill="#2f54a4"/>
<rect x="498.25" y="160.30" width="12.95" height="12.95" fill="#2f54a4"/>
<rect x="510.20" y="160.30" width="12.95" height="12.95" fill="#2f54a4"/>
<rect x="522.15" y="160.30" width="12.95" height="12.95" fill="#2f54a4"/>
<rect x="534.10" y="160.30" width="12.95" height="12.95" fill="#2f54a4"/>
<rect x="546.05" y="160.30" width="12.95" height="12.95" fill="#2f54a4"/>
<rect x="558.00" y="160.30" width="12.95" height="12.95" fill="#2f54a4"/>
<rect x="569.95" y="160.30" width="12.95" height="12.95" fill="#2f54a4"/>
<rect x="581.90" y="160.30" width="12.95" height="12.95" fill="#2f54a4"/>
<rect x="593.85" y="160.30" width="12.95" height="12.95" fill="#2f54a4"/>
<rect x="605.80" y="160.30" width="12.95" height="12.95" fill="#4265b2"/>
<rect x="617.75" y="160.30" width="12.95" height="12.95" fill="#2f54a4"/>
<rect x="390.70" y="172.25" width="12.95" height="12.95" fill="#2f54a4"/>
<rect x="402.65" y="172.25" width="12.95" height="12.95" fill="#2f54a4"/>
<rect x="414.60" y="172.25" width="12.95" height="12.95" fill="#2f54a4"/>
<rect x="426.55" y="172.25" width="12.95" height="12.95" fill="#2f54a4"/>
<rect x="438.50" y="172.25" width="12.95" height="12.95" fill="#da6c5b"/>
<rect x="450.45" y="172.25" width="12.95" height="12.95" fill="#2f54a4"/>
<rect x="462.40" y="172.25" width="12.95" height="12.95" fill="#2f54a4"/>
<rect x="474.35" y="172.25" width="12.95" height="12.95" fill="#2f54a4"/>
<rect x="486.30" y="172.25" width="12.95" height="12.95" fill="#2f54a4"/>
<rect x="498.25" y="172.25" width="12.95" height="12.95" fill="#2f54a4"/>
<rect x="510.20" y="172.25" width="12.95" height="12.95" fill="#2f54a4"/>
<rect x="522.15" y="172.25" width="12.95" height="12.95" fill="#2f54a4"/>
<rect x="534.10" y="172.25" width="12.95" height="12.95" fill="#2f54a4"/>
<rect x="546.05" y="172.25" width="12.95" height="12.95" fill="#6586c5"/>
<rect x="558.00" y="172.25" width="12.95" height="12.95" fill="#2f54a4"/>
<rect x="569.95" y="172.25" width="12.95" height="12.95" fill="#2f54a4"/>
<rect x="581.90" y="172.25" width="12.95" height="12.95" fill="#2f54a4"/>
<rect x="593.85" y="172.25" width="12.95" height="12.95" fill="#2f54a4"/>
<rect x="605.80" y="172.25" width="12.95" height="12.95" fill="#2f54a4"/>
<rect x="617.75" y="172.25" width="12.95" height="12.95" fill="#2f54a4"/>
<rect x="390.70" y="184.20" width="12.95" height="12.95" fill="#2f54a4"/>
<rect x="402.65" y="184.20" width="12.95" height="12.95" fill="#2f54a4"/>
<rect x="414.60" y="184.20" width="12.95" height="12.95" fill="#2f54a4"/>
<rect x="426.55" y="184.20" width="12.95" height="12.95" fill="#2f54a4"/>
<rect x="438.50" y="184.20" width="12.95" height="12.95" fill="#2f54a4"/>
<rect x="450.45" y="184.20" width="12.95" height="12.95" fill="#2f54a4"/>
<rect x="462.40" y="184.20" width="12.95" height="12.95" fill="#2f54a4"/>
<rect x="474.35" y="184.20" width="12.95" height="12.95" fill="#ba2033"/>
<rect x="486.30" y="184.20" width="12.95" height="12.95" fill="#2f54a4"/>
<rect x="498.25" y="184.20" width="12.95" height="12.95" fill="#2f54a4"/>
<rect x="510.20" y="184.20" width="12.95" height="12.95" fill="#2f54a4"/>
<rect x="522.15" y="184.20" width="12.95" height="12.95" fill="#2f54a4"/>
<rect x="534.10" y="184.20" width="12.95" height="12.95" fill="#2f54a4"/>
<rect x="546.05" y="184.20" width="12.95" height="12.95" fill="#2f54a4"/>
<rect x="558.00" y="184.20" width="12.95" height="12.95" fill="#2f54a4"/>
<rect x="569.95" y="184.20" width="12.95" height="12.95" fill="#3257a6"/>
<rect x="581.90" y="184.20" width="12.95" height="12.95" fill="#2f54a4"/>
<rect x="593.85" y="184.20" width="12.95" height="12.95" fill="#2f54a4"/>
<rect x="605.80" y="184.20" width="12.95" height="12.95" fill="#2f54a4"/>
<rect x="617.75" y="184.20" width="12.95" height="12.95" fill="#2f54a4"/>
<rect x="390.70" y="196.15" width="12.95" height="12.95" fill="#2f54a4"/>
<rect x="402.65" y="196.15" width="12.95" height="12.95" fill="#2f54a4"/>
<rect x="414.60" y="196.15" width="12.95" height="12.95" fill="#2f54a4"/>
<rect x="426.55" y="196.15" width="12.95" height="12.95" fill="#2f54a4"/>
<rect x="438.50" y="196.15" width="12.95" height="12.95" fill="#2f54a4"/>
<rect x="450.45" y="196.15" width="12.95" height="12.95" fill="#da6c5b"/>
<rect x="462.40" y="196.15" width="12.95" height="12.95" fill="#2f54a4"/>
<rect x="474.35" y="196.15" width="12.95" height="12.95" fill="#2f54a4"/>
<rect x="486.30" y="196.15" width="12.95" height="12.95" fill="#2f54a4"/>
<rect x="498.25" y="196.15" width="12.95" height="12.95" fill="#2f54a4"/>
<rect x="510.20" y="196.15" width="12.95" height="12.95" fill="#2f54a4"/>
<rect x="522.15" y="196.15" width="12.95" height="12.95" fill="#2f54a4"/>
<rect x="534.10" y="196.15" width="12.95" height="12.95" fill="#2f54a4"/>
<rect x="546.05" y="196.15" width="12.95" height="12.95" fill="#2f54a4"/>
<rect x="558.00" y="196.15" width="12.95" height="12.95" fill="#2f54a4"/>
<rect x="569.95" y="196.15" width="12.95" height="12.95" fill="#2f54a4"/>
<rect x="581.90" y="196.15" width="12.95" height="12.95" fill="#2f54a4"/>
<rect x="593.85" y="196.15" width="12.95" height="12.95" fill="#2f54a4"/>
<rect x="605.80" y="196.15" width="12.95" height="12.95" fill="#2f54a4"/>
<rect x="617.75" y="196.15" width="12.95" height="12.95" fill="#6586c5"/>
<rect x="390.70" y="208.10" width="12.95" height="12.95" fill="#2f54a4"/>
<rect x="402.65" y="208.10" width="12.95" height="12.95" fill="#ba2033"/>
<rect x="414.60" y="208.10" width="12.95" height="12.95" fill="#2f54a4"/>
<rect x="426.55" y="208.10" width="12.95" height="12.95" fill="#2f54a4"/>
<rect x="438.50" y="208.10" width="12.95" height="12.95" fill="#2f54a4"/>
<rect x="450.45" y="208.10" width="12.95" height="12.95" fill="#2f54a4"/>
<rect x="462.40" y="208.10" width="12.95" height="12.95" fill="#2f54a4"/>
<rect x="474.35" y="208.10" width="12.95" height="12.95" fill="#2f54a4"/>
<rect x="486.30" y="208.10" width="12.95" height="12.95" fill="#2f54a4"/>
<rect x="498.25" y="208.10" width="12.95" height="12.95" fill="#2f54a4"/>
<rect x="510.20" y="208.10" width="12.95" height="12.95" fill="#2f54a4"/>
<rect x="522.15" y="208.10" width="12.95" height="12.95" fill="#2f54a4"/>
<rect x="534.10" y="208.10" width="12.95" height="12.95" fill="#2f54a4"/>
<rect x="546.05" y="208.10" width="12.95" height="12.95" fill="#2f54a4"/>
<rect x="558.00" y="208.10" width="12.95" height="12.95" fill="#2f54a4"/>
<rect x="569.95" y="208.10" width="12.95" height="12.95" fill="#2f54a4"/>
<rect x="581.90" y="208.10" width="12.95" height="12.95" fill="#2f54a4"/>
<rect x="593.85" y="208.10" width="12.95" height="12.95" fill="#2f54a4"/>
<rect x="605.80" y="208.10" width="12.95" height="12.95" fill="#2f54a4"/>
<rect x="617.75" y="208.10" width="12.95" height="12.95" fill="#2f54a4"/>
<rect x="390.70" y="220.05" width="12.95" height="12.95" fill="#2f54a4"/>
<rect x="402.65" y="220.05" width="12.95" height="12.95" fill="#2f54a4"/>
<rect x="414.60" y="220.05" width="12.95" height="12.95" fill="#2f54a4"/>
<rect x="426.55" y="220.05" width="12.95" height="12.95" fill="#2f54a4"/>
<rect x="438.50" y="220.05" width="12.95" height="12.95" fill="#2f54a4"/>
<rect x="450.45" y="220.05" width="12.95" height="12.95" fill="#2f54a4"/>
<rect x="462.40" y="220.05" width="12.95" height="12.95" fill="#2f54a4"/>
<rect x="474.35" y="220.05" width="12.95" height="12.95" fill="#dc715f"/>
<rect x="486.30" y="220.05" width="12.95" height="12.95" fill="#2f54a4"/>
<rect x="498.25" y="220.05" width="12.95" height="12.95" fill="#2f54a4"/>
<rect x="510.20" y="220.05" width="12.95" height="12.95" fill="#2f54a4"/>
<rect x="522.15" y="220.05" width="12.95" height="12.95" fill="#2f54a4"/>
<rect x="534.10" y="220.05" width="12.95" height="12.95" fill="#6c8cc8"/>
<rect x="546.05" y="220.05" width="12.95" height="12.95" fill="#2f54a4"/>
<rect x="558.00" y="220.05" width="12.95" height="12.95" fill="#2f54a4"/>
<rect x="569.95" y="220.05" width="12.95" height="12.95" fill="#2f54a4"/>
<rect x="581.90" y="220.05" width="12.95" height="12.95" fill="#2f54a4"/>
<rect x="593.85" y="220.05" width="12.95" height="12.95" fill="#2f54a4"/>
<rect x="605.80" y="220.05" width="12.95" height="12.95" fill="#2f54a4"/>
<rect x="617.75" y="220.05" width="12.95" height="12.95" fill="#2f54a4"/>
<rect x="390.70" y="232.00" width="12.95" height="12.95" fill="#ba2033"/>
<rect x="402.65" y="232.00" width="12.95" height="12.95" fill="#2f54a4"/>
<rect x="414.60" y="232.00" width="12.95" height="12.95" fill="#2f54a4"/>
<rect x="426.55" y="232.00" width="12.95" height="12.95" fill="#2f54a4"/>
<rect x="438.50" y="232.00" width="12.95" height="12.95" fill="#2f54a4"/>
<rect x="450.45" y="232.00" width="12.95" height="12.95" fill="#2f54a4"/>
<rect x="462.40" y="232.00" width="12.95" height="12.95" fill="#2f54a4"/>
<rect x="474.35" y="232.00" width="12.95" height="12.95" fill="#2f54a4"/>
<rect x="486.30" y="232.00" width="12.95" height="12.95" fill="#2f54a4"/>
<rect x="498.25" y="232.00" width="12.95" height="12.95" fill="#2f54a4"/>
<rect x="510.20" y="232.00" width="12.95" height="12.95" fill="#2f54a4"/>
<rect x="522.15" y="232.00" width="12.95" height="12.95" fill="#2f54a4"/>
<rect x="534.10" y="232.00" width="12.95" height="12.95" fill="#2f54a4"/>
<rect x="546.05" y="232.00" width="12.95" height="12.95" fill="#2f54a4"/>
<rect x="558.00" y="232.00" width="12.95" height="12.95" fill="#2f54a4"/>
<rect x="569.95" y="232.00" width="12.95" height="12.95" fill="#2f54a4"/>
<rect x="581.90" y="232.00" width="12.95" height="12.95" fill="#2f54a4"/>
<rect x="593.85" y="232.00" width="12.95" height="12.95" fill="#2f54a4"/>
<rect x="605.80" y="232.00" width="12.95" height="12.95" fill="#2f54a4"/>
<rect x="617.75" y="232.00" width="12.95" height="12.95" fill="#3a5eac"/>
<rect x="390.70" y="243.95" width="12.95" height="12.95" fill="#2f54a4"/>
<rect x="402.65" y="243.95" width="12.95" height="12.95" fill="#2f54a4"/>
<rect x="414.60" y="243.95" width="12.95" height="12.95" fill="#2f54a4"/>
<rect x="426.55" y="243.95" width="12.95" height="12.95" fill="#2f54a4"/>
<rect x="438.50" y="243.95" width="12.95" height="12.95" fill="#2f54a4"/>
<rect x="450.45" y="243.95" width="12.95" height="12.95" fill="#e2806a"/>
<rect x="462.40" y="243.95" width="12.95" height="12.95" fill="#2f54a4"/>
<rect x="474.35" y="243.95" width="12.95" height="12.95" fill="#2f54a4"/>
<rect x="486.30" y="243.95" width="12.95" height="12.95" fill="#2f54a4"/>
<rect x="498.25" y="243.95" width="12.95" height="12.95" fill="#2f54a4"/>
<rect x="510.20" y="243.95" width="12.95" height="12.95" fill="#2f54a4"/>
<rect x="522.15" y="243.95" width="12.95" height="12.95" fill="#2f54a4"/>
<rect x="534.10" y="243.95" width="12.95" height="12.95" fill="#2f54a4"/>
<rect x="546.05" y="243.95" width="12.95" height="12.95" fill="#2f54a4"/>
<rect x="558.00" y="243.95" width="12.95" height="12.95" fill="#6c8cc8"/>
<rect x="569.95" y="243.95" width="12.95" height="12.95" fill="#2f54a4"/>
<rect x="581.90" y="243.95" width="12.95" height="12.95" fill="#2f54a4"/>
<rect x="593.85" y="243.95" width="12.95" height="12.95" fill="#2f54a4"/>
<rect x="605.80" y="243.95" width="12.95" height="12.95" fill="#2f54a4"/>
<rect x="617.75" y="243.95" width="12.95" height="12.95" fill="#2f54a4"/>
<rect x="390.70" y="255.90" width="12.95" height="12.95" fill="#2f54a4"/>
<rect x="402.65" y="255.90" width="12.95" height="12.95" fill="#2f54a4"/>
<rect x="414.60" y="255.90" width="12.95" height="12.95" fill="#2f54a4"/>
<rect x="426.55" y="255.90" width="12.95" height="12.95" fill="#dc715f"/>
<rect x="438.50" y="255.90" width="12.95" height="12.95" fill="#2f54a4"/>
<rect x="450.45" y="255.90" width="12.95" height="12.95" fill="#2f54a4"/>
<rect x="462.40" y="255.90" width="12.95" height="12.95" fill="#2f54a4"/>
<rect x="474.35" y="255.90" width="12.95" height="12.95" fill="#2f54a4"/>
<rect x="486.30" y="255.90" width="12.95" height="12.95" fill="#2f54a4"/>
<rect x="498.25" y="255.90" width="12.95" height="12.95" fill="#2f54a4"/>
<rect x="510.20" y="255.90" width="12.95" height="12.95" fill="#7f9cd2"/>
<rect x="522.15" y="255.90" width="12.95" height="12.95" fill="#2f54a4"/>
<rect x="534.10" y="255.90" width="12.95" height="12.95" fill="#2f54a4"/>
<rect x="546.05" y="255.90" width="12.95" height="12.95" fill="#2f54a4"/>
<rect x="558.00" y="255.90" width="12.95" height="12.95" fill="#2f54a4"/>
<rect x="569.95" y="255.90" width="12.95" height="12.95" fill="#2f54a4"/>
<rect x="581.90" y="255.90" width="12.95" height="12.95" fill="#2f54a4"/>
<rect x="593.85" y="255.90" width="12.95" height="12.95" fill="#2f54a4"/>
<rect x="605.80" y="255.90" width="12.95" height="12.95" fill="#2f54a4"/>
<rect x="617.75" y="255.90" width="12.95" height="12.95" fill="#2f54a4"/>
<rect x="390.70" y="267.85" width="12.95" height="12.95" fill="#2f54a4"/>
<rect x="402.65" y="267.85" width="12.95" height="12.95" fill="#2f54a4"/>
<rect x="414.60" y="267.85" width="12.95" height="12.95" fill="#2f54a4"/>
<rect x="426.55" y="267.85" width="12.95" height="12.95" fill="#2f54a4"/>
<rect x="438.50" y="267.85" width="12.95" height="12.95" fill="#ba2033"/>
<rect x="450.45" y="267.85" width="12.95" height="12.95" fill="#2f54a4"/>
<rect x="462.40" y="267.85" width="12.95" height="12.95" fill="#2f54a4"/>
<rect x="474.35" y="267.85" width="12.95" height="12.95" fill="#2f54a4"/>
<rect x="486.30" y="267.85" width="12.95" height="12.95" fill="#2f54a4"/>
<rect x="498.25" y="267.85" width="12.95" height="12.95" fill="#2f54a4"/>
<rect x="510.20" y="267.85" width="12.95" height="12.95" fill="#2f54a4"/>
<rect x="522.15" y="267.85" width="12.95" height="12.95" fill="#2f54a4"/>
<rect x="534.10" y="267.85" width="12.95" height="12.95" fill="#2f54a4"/>
<rect x="546.05" y="267.85" width="12.95" height="12.95" fill="#2f54a4"/>
<rect x="558.00" y="267.85" width="12.95" height="12.95" fill="#2f54a4"/>
<rect x="569.95" y="267.85" width="12.95" height="12.95" fill="#2f54a4"/>
<rect x="581.90" y="267.85" width="12.95" height="12.95" fill="#2f54a4"/>
<rect x="593.85" y="267.85" width="12.95" height="12.95" fill="#2f54a4"/>
<rect x="605.80" y="267.85" width="12.95" height="12.95" fill="#2f54a4"/>
<rect x="617.75" y="267.85" width="12.95" height="12.95" fill="#2f54a4"/>
</g>
<line x1="510.1" y1="41.3" x2="510.1" y2="280.1" stroke="#1e1e1e" stroke-width="1.5"/>
<line x1="390.6" y1="160.6" x2="629.5" y2="160.6" stroke="#1e1e1e" stroke-width="1.5"/>
<rect x="390.6" y="41.3" width="238.90" height="238.80" fill="none" stroke="#262626" stroke-width="1"/>
<rect x="271.5" y="315.66" width="16" height="5.34" fill="#3156a6"/>
<rect x="271.5" y="310.32" width="16" height="6.34" fill="#365aa9"/>
<rect x="271.5" y="304.97" width="16" height="6.34" fill="#3a5eac"/>
<rect x="271.5" y="299.63" width="16" height="6.34" fill="#3f62b0"/>
<rect x="271.5" y="294.29" width="16" height="6.34" fill="#4366b3"/>
<rect x="271.5" y="288.95" width="16" height="6.34" fill="#486ab6"/>
<rect x="271.5" y="283.61" width="16" height="6.34" fill="#4d6fb9"/>
<rect x="271.5" y="278.27" width="16" height="6.34" fill="#5274bc"/>
<rect x="271.5" y="272.93" width="16" height="6.34" fill="#5879bf"/>
<rect x="271.5" y="267.58" width="16" height="6.34" fill="#5e7fc1"/>
<rect x="271.5" y="262.24" width="16" height="6.34" fill="#6484c4"/>
<rect x="271.5" y="256.90" width="16" height="6.34" fill="#6989c7"/>
<rect x="271.5" y="251.56" width="16" height="6.34" fill="#6f8fca"/>
<rect x="271.5" y="246.22" width="16" height="6.34" fill="#7694cd"/>
<rect x="271.5" y="240.88" width="16" height="6.34" fill="#7c9ad0"/>
<rect x="271.5" y="235.53" width="16" height="6.34" fill="#829fd3"/>
<rect x="271.5" y="230.19" width="16" height="6.34" fill="#88a5d6"/>
<rect x="271.5" y="224.85" width="16" height="6.34" fill="#8faad9"/>
<rect x="271.5" y="219.51" width="16" height="6.34" fill="#95afdc"/>
<rect x="271.5" y="214.17" width="16" height="6.34" fill="#9bb4de"/>
<rect x="271.5" y="208.83" width="16" height="6.34" fill="#a1b9e0"/>
<rect x="271.5" y="203.48" width="16" height="6.34" fill="#a7bde3"/>
<rect x="271.5" y="198.14" width="16" height="6.34" fill="#adc2e5"/>
<rect x="271.5" y="192.80" width="16" height="6.34" fill="#b3c7e7"/>
<rect x="271.5" y="187.46" width="16" height="6.34" fill="#b9cae7"/>
<rect x="271.5" y="182.12" width="16" height="6.34" fill="#c0cde4"/>
<rect x="271.5" y="176.78" width="16" height="6.34" fill="#c6d0e1"/>
<rect x="271.5" y="171.43" width="16" height="6.34" fill="#ccd3df"/>
<rect x="271.5" y="166.09" width="16" height="6.34" fill="#d2d6dc"/>
<rect x="271.5" y="160.75" width="16" height="6.34" fill="#d9d9d9"/>
<rect x="271.5" y="155.41" width="16" height="6.34" fill="#ded8d5"/>
<rect x="271.5" y="150.07" width="16" height="6.34" fill="#e0d5cf"/>
<rect x="271.5" y="144.72" width="16" height="6.34" fill="#e4d2c9"/>
<rect x="271.5" y="139.38" width="16" height="6.34" fill="#e7cec3"/>
<rect x="271.5" y="134.04" width="16" height="6.34" fill="#eacbbd"/>
<rect x="271.5" y="128.70" width="16" height="6.34" fill="#ecc8b7"/>
<rect x="271.5" y="123.36" width="16" height="6.34" fill="#eec3b1"/>
<rect x="271.5" y="118.02" width="16" height="6.34" fill="#eebeaa"/>
<rect x="271.5" y="112.67" width="16" height="6.34" fill="#eeb9a3"/>
<rect x="271.5" y="107.33" width="16" height="6.34" fill="#edb39d"/>
<rect x="271.5" y="101.99" width="16" height="6.34" fill="#edae96"/>
<rect x="271.5" y="96.65" width="16" height="6.34" fill="#eda98f"/>
<rect x="271.5" y="91.31" width="16" height="6.34" fill="#eca389"/>
<rect x="271.5" y="85.97" width="16" height="6.34" fill="#ea9c84"/>
<rect x="271.5" y="80.62" width="16" height="6.34" fill="#e8967e"/>
<rect x="271.5" y="75.28" width="16" height="6.34" fill="#e79078"/>
<rect x="271.5" y="69.94" width="16" height="6.34" fill="#e58a72"/>
<rect x="271.5" y="64.60" width="16" height="6.34" fill="#e3836d"/>
<rect x="271.5" y="59.26" width="16" height="6.34" fill="#e07c67"/>
<rect x="271.5" y="53.92" width="16" height="6.34" fill="#dd7461"/>
<rect x="271.5" y="48.58" width="16" height="6.34" fill="#d96c5b"/>
<rect x="271.5" y="43.23" width="16" height="6.34" fill="#d66354"/>
<rect x="271.5" y="37.89" width="16" height="6.34" fill="#d25b4e"/>
<rect x="271.5" y="32.55" width="16" height="6.34" fill="#cf5348"/>
<rect x="271.5" y="27.21" width="16" height="6.34" fill="#cb4a43"/>
<rect x="271.5" y="21.87" width="16" height="6.34" fill="#c74040"/>
<rect x="271.5" y="16.53" width="16" height="6.34" fill="#c3363c"/>
<rect x="271.5" y="11.18" width="16" height="6.34" fill="#bf2d38"/>
<rect x="271.5" y="5.84" width="16" height="6.34" fill="#bb2334"/>
<rect x="271.5" y="0.50" width="16" height="6.34" fill="#b71931"/>
<rect x="271.5" y="0.5" width="16" height="320.5" fill="none" stroke="#262626" stroke-width="1"/>
<rect x="644.2" y="315.46" width="16" height="5.34" fill="#3156a6"/>
<rect x="644.2" y="310.12" width="16" height="6.34" fill="#365aa9"/>
<rect x="644.2" y="304.78" width="16" height="6.34" fill="#3a5eac"/>
<rect x="644.2" y="299.45" width="16" height="6.34" fill="#3f62b0"/>
<rect x="644.2" y="294.11" width="16" height="6.34" fill="#4366b3"/>
<rect x="644.2" y="288.77" width="16" height="6.34" fill="#486ab6"/>
<rect x="644.2" y="283.43" width="16" height="6.34" fill="#4d6fb9"/>
<rect x="644.2" y="278.09" width="16" height="6.34" fill="#5274bc"/>
<rect x="644.2" y="272.75" width="16" height="6.34" fill="#5879bf"/>
<rect x="644.2" y="267.42" width="16" height="6.34" fill="#5e7fc1"/>
<rect x="644.2" y="262.08" width="16" height="6.34" fill="#6484c4"/>
<rect x="644.2" y="256.74" width="16" height="6.34" fill="#6989c7"/>
<rect x="644.2" y="251.40" width="16" height="6.34" fill="#6f8fca"/>
<rect x="644.2" y="246.06" width="16" height="6.34" fill="#7694cd"/>
<rect x="644.2" y="240.73" width="16" height="6.34" fill="#7c9ad0"/>
<rect x="644.2" y="235.39" width="16" height="6.34" fill="#829fd3"/>
<rect x="644.2" y="230.05" width="16" height="6.34" fill="#88a5d6"/>
<rect x="644.2" y="224.71" width="16" height="6.34" fill="#8faad9"/>
<rect x="644.2" y="219.37" width="16" height="6.34" fill="#95afdc"/>
<rect x="644.2" y="214.03" width="16" height="6.34" fill="#9bb4de"/>
<rect x="644.2" y="208.70" width="16" height="6.34" fill="#a1b9e0"/>
<rect x="644.2" y="203.36" width="16" height="6.34" fill="#a7bde3"/>
<rect x="644.2" y="198.02" width="16" height="6.34" fill="#adc2e5"/>
<rect x="644.2" y="192.68" width="16" height="6.34" fill="#b3c7e7"/>
<rect x="644.2" y="187.34" width="16" height="6.34" fill="#b9cae7"/>
<rect x="644.2" y="182.00" width="16" height="6.34" fill="#c0cde4"/>
<rect x="644.2" y="176.67" width="16" height="6.34" fill="#c6d0e1"/>
<rect x="644.2" y="171.33" width="16" height="6.34" fill="#ccd3df"/>
<rect x="644.2" y="165.99" width="16" height="6.34" fill="#d2d6dc"/>
<rect x="644.2" y="160.65" width="16" height="6.34" fill="#d9d9d9"/>
<rect x="644.2" y="155.31" width="16" height="6.34" fill="#ded8d5"/>
<rect x="644.2" y="149.97" width="16" height="6.34" fill="#e0d5cf"/>
<rect x="644.2" y="144.63" width="16" height="6.34" fill="#e4d2c9"/>
<rect x="644.2" y="139.30" width="16" height="6.34" fill="#e7cec3"/>
<rect x="644.2" y="133.96" width="16" height="6.34" fill="#eacbbd"/>
<rect x="644.2" y="128.62" width="16" height="6.34" fill="#ecc8b7"/>
<rect x="644.2" y="123.28" width="16" height="6.34" fill="#eec3b1"/>
<rect x="644.2" y="117.94" width="16" height="6.34" fill="#eebeaa"/>
<rect x="644.2" y="112.60" width="16" height="6.34" fill="#eeb9a3"/>
<rect x="644.2" y="107.27" width="16" height="6.34" fill="#edb39d"/>
<rect x="644.2" y="101.93" width="16" height="6.34" fill="#edae96"/>
<rect x="644.2" y="96.59" width="16" height="6.34" fill="#eda98f"/>
<rect x="644.2" y="91.25" width="16" height="6.34" fill="#eca389"/>
<rect x="644.2" y="85.91" width="16" height="6.34" fill="#ea9c84"/>
<rect x="644.2" y="80.58" width="16" height="6.34" fill="#e8967e"/>
<rect x="644.2" y="75.24" width="16" height="6.34" fill="#e79078"/>
<rect x="644.2" y="69.90" width="16" height="6.34" fill="#e58a72"/>
<rect x="644.2" y="64.56" width="16" height="6.34" fill="#e3836d"/>
<rect x="644.2" y="59.22" width="16" height="6.34" fill="#e07c67"/>
<rect x="644.2" y="53.88" width="16" height="6.34" fill="#dd7461"/>
<rect x="644.2" y="48.55" width="16" height="6.34" fill="#d96c5b"/>
<rect x="644.2" y="43.21" width="16" height="6.34" fill="#d66354"/>
<rect x="644.2" y="37.87" width="16" height="6.34" fill="#d25b4e"/>
<rect x="644.2" y="32.53" width="16" height="6.34" fill="#cf5348"/>
<rect x="644.2" y="27.19" width="16" height="6.34" fill="#cb4a43"/>
<rect x="644.2" y="21.85" width="16" height="6.34" fill="#c74040"/>
<rect x="644.2" y="16.52" width="16" height="6.34" fill="#c3363c"/>
<rect x="644.2" y="11.18" width="16" height="6.34" fill="#bf2d38"/>
<rect x="644.2" y="5.84" width="16" height="6.34" fill="#bb2334"/>
<rect x="644.2" y="0.50" width="16" height="6.34" fill="#b71931"/>
<rect x="644.2" y="0.5" width="16" height="320.3" fill="none" stroke="#262626" stroke-width="1"/>
<line x1="287.5" y1="321" x2="291.2" y2="321" stroke="#262626" stroke-width="0.9"/>
<line x1="287.5" y1="280" x2="291.2" y2="280" stroke="#262626" stroke-width="0.9"/>
<line x1="287.5" y1="239" x2="291.2" y2="239" stroke="#262626" stroke-width="0.9"/>
<line x1="287.5" y1="198" x2="291.2" y2="198" stroke="#262626" stroke-width="0.9"/>
<line x1="287.5" y1="157" x2="291.2" y2="157" stroke="#262626" stroke-width="0.9"/>
<line x1="287.5" y1="116" x2="291.2" y2="116" stroke="#262626" stroke-width="0.9"/>
<line x1="287.5" y1="75" x2="291.2" y2="75" stroke="#262626" stroke-width="0.9"/>
<line x1="287.5" y1="34" x2="291.2" y2="34" stroke="#262626" stroke-width="0.9"/>
<line x1="660.2" y1="320.8" x2="663.9" y2="320.8" stroke="#262626" stroke-width="0.9"/>
<line x1="660.2" y1="256.8" x2="663.9" y2="256.8" stroke="#262626" stroke-width="0.9"/>
<line x1="660.2" y1="192.8" x2="663.9" y2="192.8" stroke="#262626" stroke-width="0.9"/>
<line x1="660.2" y1="128.8" x2="663.9" y2="128.8" stroke="#262626" stroke-width="0.9"/>
<line x1="660.2" y1="64.80000000000001" x2="663.9" y2="64.80000000000001" stroke="#262626" stroke-width="0.9"/>
<text x="294.49" y="326.00" font-size="11.90" font-family="Liberation Sans" fill="#262626" textLength="33.14" lengthAdjust="spacingAndGlyphs">0.000</text>
<text x="294.48" y="285.00" font-size="11.90" font-family="Liberation Sans" fill="#262626" textLength="33.36" lengthAdjust="spacingAndGlyphs">0.025</text>
<text x="294.49" y="244.00" font-size="11.90" font-family="Liberation Sans" fill="#262626" textLength="33.14" lengthAdjust="spacingAndGlyphs">0.050</text>
<text x="294.48" y="203.00" font-size="11.90" font-family="Liberation Sans" fill="#262626" textLength="33.36" lengthAdjust="spacingAndGlyphs">0.075</text>
<text x="294.49" y="162.00" font-size="11.90" font-family="Liberation Sans" fill="#262626" textLength="33.14" lengthAdjust="spacingAndGlyphs">0.100</text>
<text x="294.48" y="121.00" font-size="11.90" font-family="Liberation Sans" fill="#262626" textLength="33.36" lengthAdjust="spacingAndGlyphs">0.125</text>
<text x="294.49" y="80.00" font-size="11.90" font-family="Liberation Sans" fill="#262626" textLength="33.14" lengthAdjust="spacingAndGlyphs">0.150</text>
<text x="294.48" y="39.00" font-size="11.90" font-family="Liberation Sans" fill="#262626" textLength="33.36" lengthAdjust="spacingAndGlyphs">0.175</text>
<text x="667.17" y="325.80" font-size="11.90" font-family="Liberation Sans" fill="#262626" textLength="18.97" lengthAdjust="spacingAndGlyphs">0.0</text>
<text x="667.17" y="261.80" font-size="11.90" font-family="Liberation Sans" fill="#262626" textLength="19.19" lengthAdjust="spacingAndGlyphs">0.2</text>
<text x="667.17" y="197.80" font-size="11.90" font-family="Liberation Sans" fill="#262626" textLength="18.97" lengthAdjust="spacingAndGlyphs">0.4</text>
<text x="667.17" y="133.80" font-size="11.90" font-family="Liberation Sans" fill="#262626" textLength="19.19" lengthAdjust="spacingAndGlyphs">0.6</text>
<text x="667.17" y="69.80" font-size="11.90" font-family="Liberation Sans" fill="#262626" textLength="19.19" lengthAdjust="spacingAndGlyphs">0.8</text>
<text x="49.15" y="28.50" font-size="15.30" font-family="Liberation Sans" fill="#262626" textLength="189.77" lengthAdjust="spacingAndGlyphs">Transformer Soft Attention</text>
<text x="106.38" y="42.70" font-size="11.90" font-family="Liberation Sans" fill="#262626" textLength="74.21" lengthAdjust="spacingAndGlyphs">Sender (out)</text>
<text x="398.96" y="22.90" font-size="15.30" font-family="Liberation Sans" fill="#262626" textLength="221.54" lengthAdjust="spacingAndGlyphs">Program Communication Policy</text>
<text x="472.68" y="36.70" font-size="11.90" font-family="Liberation Sans" fill="#262626" textLength="74.11" lengthAdjust="spacingAndGlyphs">Sender (out)</text>
<text x="64.19" y="286.40" font-size="11.90" font-family="Liberation Sans" fill="#1f70b5" textLength="44.95" lengthAdjust="spacingAndGlyphs">group 1</text>
<text x="177.48" y="286.40" font-size="11.90" font-family="Liberation Sans" fill="#cf2230" textLength="45.56" lengthAdjust="spacingAndGlyphs">group 2</text>
<text x="427.48" y="292.20" font-size="11.90" font-family="Liberation Sans" fill="#1f70b5" textLength="45.16" lengthAdjust="spacingAndGlyphs">group 1</text>
<text x="546.78" y="292.20" font-size="11.90" font-family="Liberation Sans" fill="#cf2230" textLength="45.26" lengthAdjust="spacingAndGlyphs">group 2</text>
<g transform="translate(9.40,0) rotate(-90)"><text x="-198.66" y="0.00" font-size="11.90" font-family="Liberation Sans" fill="#262626" textLength="76.96" lengthAdjust="spacingAndGlyphs">Receiver (in)</text></g>
<g transform="translate(25.30,0) rotate(-90)"><text x="-121.11" y="0.00" font-size="11.90" font-family="Liberation Sans" fill="#1f70b5" textLength="44.24" lengthAdjust="spacingAndGlyphs">group 1</text></g>
<g transform="translate(25.30,0) rotate(-90)"><text x="-234.41" y="0.00" font-size="11.90" font-family="Liberation Sans" fill="#cf2230" textLength="44.34" lengthAdjust="spacingAndGlyphs">group 2</text></g>
<g transform="translate(369.90,0) rotate(-90)"><text x="-197.83" y="0.00" font-size="11.90" font-family="Liberation Sans" fill="#262626" textLength="74.51" lengthAdjust="spacingAndGlyphs">Receiver (in)</text></g>
<g transform="translate(385.50,0) rotate(-90)"><text x="-117.71" y="0.00" font-size="11.90" font-family="Liberation Sans" fill="#1f70b5" textLength="44.85" lengthAdjust="spacingAndGlyphs">group 1</text></g>
<g transform="translate(385.50,0) rotate(-90)"><text x="-237.21" y="0.00" font-size="11.90" font-family="Liberation Sans" fill="#cf2230" textLength="44.85" lengthAdjust="spacingAndGlyphs">group 2</text></g>
<text x="79.76" y="372.04" font-size="22.24" font-family="Liberation Serif" fill="#1a1a1a" textLength="5.80" lengthAdjust="spacingAndGlyphs">(</text>
<text x="86.24" y="371.80" font-size="20.30" font-family="Liberation Serif" fill="#1a1a1a" textLength="10.82" lengthAdjust="spacingAndGlyphs">a</text>
<text x="97.82" y="372.04" font-size="22.24" font-family="Liberation Serif" fill="#1a1a1a" textLength="6.14" lengthAdjust="spacingAndGlyphs">)</text>
<text x="112.64" y="371.80" font-size="20.30" font-family="Liberation Serif" fill="#1a1a1a" textLength="136.76" lengthAdjust="spacingAndGlyphs">DNN attention</text>
<text x="423.56" y="372.04" font-size="22.24" font-family="Liberation Serif" fill="#1a1a1a" textLength="5.80" lengthAdjust="spacingAndGlyphs">(</text>
<text x="431.40" y="371.80" font-size="20.30" font-family="Liberation Serif" fill="#1a1a1a" textLength="11.20" lengthAdjust="spacingAndGlyphs">b</text>
<text x="442.81" y="372.04" font-size="22.24" font-family="Liberation Serif" fill="#1a1a1a" textLength="6.27" lengthAdjust="spacingAndGlyphs">)</text>
<text x="457.73" y="371.80" font-size="20.30" font-family="Liberation Serif" fill="#1a1a1a" textLength="168.77" lengthAdjust="spacingAndGlyphs">Program attention</text>
<text x="193.71" y="518.74" font-size="22.24" font-family="Liberation Serif" fill="#1a1a1a" textLength="6.28" lengthAdjust="spacingAndGlyphs">(</text>
<text x="200.64" y="518.50" font-size="20.30" font-family="Liberation Serif" fill="#1a1a1a" textLength="9.43" lengthAdjust="spacingAndGlyphs">c</text>
<text x="210.62" y="518.74" font-size="22.24" font-family="Liberation Serif" fill="#1a1a1a" textLength="6.14" lengthAdjust="spacingAndGlyphs">)</text>
<text x="225.64" y="518.50" font-size="20.30" font-family="Liberation Serif" fill="#1a1a1a" textLength="270.36" lengthAdjust="spacingAndGlyphs">Programmatic attention rules</text>
<text x="133.19" y="425.70" font-size="20.88" font-family="Liberation Serif" font-style="italic" fill="#1a1a1a" textLength="15.05" lengthAdjust="spacingAndGlyphs">R</text>
<text x="147.61" y="428.10" font-size="13.54" font-family="Liberation Serif" fill="#1a1a1a" textLength="7.60" lengthAdjust="spacingAndGlyphs">1</text>
<text x="163.20" y="425.70" font-size="19.40" font-family="Liberation Serif" fill="#1a1a1a" textLength="5.33" lengthAdjust="spacingAndGlyphs">:</text>
<text x="174.50" y="425.89" font-size="17.89" font-family="Liberation Sans" fill="#1a1a1a" textLength="63.50" lengthAdjust="spacingAndGlyphs">argmax</text>
<text x="239.22" y="425.91" font-size="21.91" font-family="Liberation Serif" fill="#1a1a1a" textLength="6.16" lengthAdjust="spacingAndGlyphs">(</text>
<text x="246.82" y="425.89" font-size="17.89" font-family="Liberation Sans" fill="#1a1a1a" textLength="36.64" lengthAdjust="spacingAndGlyphs">map</text>
<text x="285.11" y="426.19" font-size="22.45" font-family="Liberation Serif" fill="#1a1a1a" textLength="6.28" lengthAdjust="spacingAndGlyphs">(</text>
<text x="291.99" y="425.70" font-size="19.40" font-family="Liberation Serif" fill="#1a1a1a" textLength="15.76" lengthAdjust="spacingAndGlyphs">−</text>
<text x="308.40" y="425.70" font-size="19.48" font-family="Liberation Serif" font-style="italic" fill="#1a1a1a" textLength="9.70" lengthAdjust="spacingAndGlyphs">d</text>
<text x="319.87" y="416.40" font-size="14.44" font-family="Liberation Serif" font-style="italic" fill="#1a1a1a" textLength="4.92" lengthAdjust="spacingAndGlyphs">i</text>
<text x="326.36" y="416.40" font-size="13.50" font-family="Liberation Serif" fill="#1a1a1a" textLength="2.72" lengthAdjust="spacingAndGlyphs">,</text>
<text x="331.95" y="416.05" font-size="13.47" font-family="Liberation Serif" font-style="italic" fill="#1a1a1a" textLength="4.96" lengthAdjust="spacingAndGlyphs">j</text>
<text x="340.16" y="425.70" font-size="19.40" font-family="Liberation Serif" fill="#1a1a1a" textLength="4.32" lengthAdjust="spacingAndGlyphs">,</text>
<text x="349.00" y="425.60" font-size="19.07" font-family="Liberation Sans" fill="#1a1a1a" textLength="39.50" lengthAdjust="spacingAndGlyphs">filter</text>
<text x="390.11" y="426.11" font-size="22.35" font-family="Liberation Serif" fill="#1a1a1a" textLength="6.28" lengthAdjust="spacingAndGlyphs">(</text>
<text x="397.03" y="425.67" font-size="20.87" font-family="Liberation Serif" font-style="italic" fill="#1a1a1a" textLength="10.13" lengthAdjust="spacingAndGlyphs">θ</text>
<text x="407.57" y="416.40" font-size="13.99" font-family="Liberation Serif" font-style="italic" fill="#1a1a1a" textLength="4.92" lengthAdjust="spacingAndGlyphs">i</text>
<text x="414.36" y="416.40" font-size="13.50" font-family="Liberation Serif" fill="#1a1a1a" textLength="2.72" lengthAdjust="spacingAndGlyphs">,</text>
<text x="420.07" y="416.05" font-size="13.47" font-family="Liberation Serif" font-style="italic" fill="#1a1a1a" textLength="5.26" lengthAdjust="spacingAndGlyphs">j</text>
<text x="434.18" y="428.80" font-size="28.37" font-family="Liberation Serif" fill="#1a1a1a" textLength="14.39" lengthAdjust="spacingAndGlyphs">≥</text>
<text x="455.73" y="425.70" font-size="19.40" font-family="Liberation Serif" fill="#1a1a1a" textLength="15.28" lengthAdjust="spacingAndGlyphs">−</text>
<text x="471.33" y="426.27" font-size="20.65" font-family="Liberation Serif" fill="#1a1a1a" textLength="42.81" lengthAdjust="spacingAndGlyphs">1.85,</text>
<text x="518.11" y="425.37" font-size="21.38" font-family="Liberation Serif" font-style="italic" fill="#1a1a1a" textLength="7.79" lengthAdjust="spacingAndGlyphs">ℓ</text>
<text x="527.28" y="426.11" font-size="22.35" font-family="Liberation Serif" fill="#1a1a1a" textLength="22.95" lengthAdjust="spacingAndGlyphs">)))</text>
<text x="552.16" y="425.70" font-size="19.40" font-family="Liberation Serif" fill="#1a1a1a" textLength="4.32" lengthAdjust="spacingAndGlyphs">,</text>
<text x="133.28" y="461.10" font-size="21.18" font-family="Liberation Serif" font-style="italic" fill="#1a1a1a" textLength="15.05" lengthAdjust="spacingAndGlyphs">R</text>
<text x="148.13" y="463.30" font-size="13.10" font-family="Liberation Serif" fill="#1a1a1a" textLength="7.59" lengthAdjust="spacingAndGlyphs">2</text>
<text x="163.49" y="461.10" font-size="19.40" font-family="Liberation Serif" fill="#1a1a1a" textLength="4.67" lengthAdjust="spacingAndGlyphs">:</text>
<text x="174.59" y="460.82" font-size="18.00" font-family="Liberation Sans" fill="#1a1a1a" textLength="65.71" lengthAdjust="spacingAndGlyphs">random</text>
<text x="241.82" y="461.31" font-size="21.91" font-family="Liberation Serif" fill="#1a1a1a" textLength="6.16" lengthAdjust="spacingAndGlyphs">(</text>
<text x="249.10" y="461.00" font-size="19.07" font-family="Liberation Sans" fill="#1a1a1a" textLength="39.70" lengthAdjust="spacingAndGlyphs">filter</text>
<text x="289.40" y="461.31" font-size="21.91" font-family="Liberation Serif" fill="#1a1a1a" textLength="7.46" lengthAdjust="spacingAndGlyphs">(</text>
<text x="297.38" y="461.09" font-size="20.03" font-family="Liberation Serif" font-style="italic" fill="#1a1a1a" textLength="10.30" lengthAdjust="spacingAndGlyphs">d</text>
<text x="309.22" y="451.80" font-size="14.59" font-family="Liberation Serif" font-style="italic" fill="#1a1a1a" textLength="4.65" lengthAdjust="spacingAndGlyphs">i</text>
<text x="315.00" y="451.80" font-size="13.50" font-family="Liberation Serif" fill="#1a1a1a" textLength="3.20" lengthAdjust="spacingAndGlyphs">,</text>
<text x="320.75" y="451.15" font-size="13.02" font-family="Liberation Serif" font-style="italic" fill="#1a1a1a" textLength="4.45" lengthAdjust="spacingAndGlyphs">j</text>
<text x="334.88" y="464.40" font-size="28.89" font-family="Liberation Serif" fill="#1a1a1a" textLength="14.39" lengthAdjust="spacingAndGlyphs">≥</text>
<text x="355.69" y="461.68" font-size="21.25" font-family="Liberation Serif" fill="#1a1a1a" textLength="42.95" lengthAdjust="spacingAndGlyphs">3.41,</text>
<text x="402.39" y="461.07" font-size="20.95" font-family="Liberation Serif" font-style="italic" fill="#1a1a1a" textLength="8.20" lengthAdjust="spacingAndGlyphs">ℓ</text>
<text x="411.28" y="461.31" font-size="21.91" font-family="Liberation Serif" fill="#1a1a1a" textLength="15.24" lengthAdjust="spacingAndGlyphs">))</text>
<text x="427.80" y="461.10" font-size="19.40" font-family="Liberation Serif" fill="#1a1a1a" textLength="5.20" lengthAdjust="spacingAndGlyphs">.</text>
</svg>
</body></html>
